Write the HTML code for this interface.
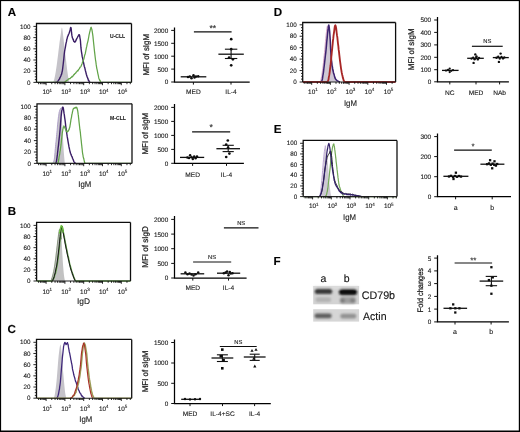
<!DOCTYPE html><html><head><meta charset="utf-8"><style>html,body{margin:0;padding:0;background:#fff;}svg{display:block;} text{font-family:"Liberation Sans", sans-serif;text-rendering:geometricPrecision;}</style></head><body>
<svg width="520" height="432" viewBox="0 0 520 432">
<defs><filter id="soft" x="0" y="0" width="520" height="432" filterUnits="userSpaceOnUse"><feGaussianBlur stdDeviation="0.28"/></filter></defs>
<g filter="url(#soft)">
<rect x="0" y="0" width="520" height="432" fill="#fff"/>
<text x="7.7" y="16.4" font-size="11.6" text-anchor="start" font-weight="bold" fill="#000" stroke="#000" stroke-width="0.12">A</text>
<text x="7.7" y="215.1" font-size="11.6" text-anchor="start" font-weight="bold" fill="#000" stroke="#000" stroke-width="0.12">B</text>
<text x="7.6" y="333.3" font-size="11.6" text-anchor="start" font-weight="bold" fill="#000" stroke="#000" stroke-width="0.12">C</text>
<text x="273.7" y="16.3" font-size="11.6" text-anchor="start" font-weight="bold" fill="#000" stroke="#000" stroke-width="0.12">D</text>
<text x="273.7" y="133.1" font-size="11.6" text-anchor="start" font-weight="bold" fill="#000" stroke="#000" stroke-width="0.12">E</text>
<text x="273.4" y="264.7" font-size="11.6" text-anchor="start" font-weight="bold" fill="#000" stroke="#000" stroke-width="0.12">F</text>
<path d="M52.3 82.4 L52.48 82.25 L52.73 82.11 L53.02 81.91 L53.35 81.57 L53.68 81.01 L54 80.16 L54.31 79 L54.64 77.59 L54.97 75.96 L55.31 74.15 L55.66 72.17 L56 70.08 L56.35 67.75 L56.71 65.14 L57.08 62.38 L57.44 59.59 L57.78 56.88 L58.1 54.4 L58.39 52.09 L58.66 49.84 L58.92 47.68 L59.16 45.65 L59.39 43.77 L59.6 42.08 L59.79 40.65 L59.96 39.47 L60.11 38.44 L60.26 37.48 L60.42 36.48 L60.6 35.36 L60.8 33.93 L61.01 32.23 L61.23 30.5 L61.46 28.97 L61.68 27.9 L61.9 27.52 L62.12 27.94 L62.33 28.99 L62.55 30.5 L62.77 32.27 L62.98 34.14 L63.2 35.92 L63.41 37.68 L63.63 39.57 L63.84 41.55 L64.05 43.59 L64.27 45.65 L64.5 47.68 L64.74 49.7 L64.99 51.75 L65.24 53.81 L65.49 55.87 L65.75 57.94 L66 60 L66.25 62.08 L66.5 64.19 L66.75 66.3 L67 68.38 L67.25 70.4 L67.5 72.32 L67.77 74.25 L68.06 76.22 L68.34 78.13 L68.61 79.87 L68.84 81.33 L69 82.4 Z" fill="#c5c3c9" stroke="none" opacity="1"/>
<path d="M55.5 82.4 L55.69 82.38 L55.93 82.38 L56.23 82.37 L56.57 82.3 L56.93 82.13 L57.3 81.84 L57.7 81.42 L58.14 80.91 L58.61 80.14 L59.09 79.29 L59.56 78.94 L60 77.54 L60.42 77.07 L60.83 76.06 L61.23 74.83 L61.63 74.07 L62.02 72.16 L62.4 70.58 L62.78 67.68 L63.15 64.53 L63.51 61.33 L63.87 58.14 L64.24 54.15 L64.6 51.35 L64.98 49.25 L65.36 47.27 L65.75 44.88 L66.13 42.86 L66.48 41.72 L66.8 39.43 L67.08 38.98 L67.33 37.58 L67.55 36.75 L67.76 36.16 L67.98 35.79 L68.2 35.64 L68.43 34.46 L68.67 34.27 L68.91 33.81 L69.14 33.05 L69.37 32.65 L69.6 31.61 L69.83 30.78 L70.05 29.87 L70.27 29.22 L70.49 28.08 L70.7 27.4 L70.9 27.6 L71.08 28.11 L71.24 29.16 L71.39 31.14 L71.55 32.72 L71.71 33.87 L71.9 35.43 L72.11 36.35 L72.33 37.52 L72.57 38.16 L72.81 38.45 L73.06 39.69 L73.3 39.5 L73.54 40.34 L73.77 41.21 L74 41.17 L74.24 41.86 L74.51 41.67 L74.8 42.23 L75.13 42.01 L75.49 41.27 L75.86 40.81 L76.25 39.49 L76.63 39.03 L77 38.24 L77.37 37.54 L77.74 36.65 L78.11 36.23 L78.47 35.68 L78.8 34.84 L79.1 34.95 L79.35 34.68 L79.57 35.79 L79.76 36.51 L79.94 37.79 L80.12 38.8 L80.3 39.65 L80.47 41.28 L80.61 43.31 L80.74 44.7 L80.9 47.19 L81.11 49.1 L81.4 51.26 L81.78 53.51 L82.23 56.63 L82.74 58.62 L83.27 61.27 L83.8 63.83 L84.3 66.49 L84.8 67.86 L85.31 70.2 L85.83 72.19 L86.33 74.24 L86.79 75.75 L87.2 77.13 L87.55 77.67 L87.84 78.61 L88.1 79.19 L88.34 80.17 L88.57 80.69 L88.8 80.41 L89.05 81.15 L89.3 81.51 L89.55 81.81 L89.77 82.05 L89.96 82.24 L90.1 82.4" fill="none" stroke="#3a1e66" stroke-width="1.4" stroke-linejoin="round" opacity="1"/>
<path d="M36.8 82.4 L37.09 82.4 L37.5 82.4 L37.99 82.4 L38.51 82.4 L39.03 82.4 L39.51 82.4 L39.96 82.4 L40.41 82.4 L40.86 82.4 L41.32 82.4 L41.77 82.4 L42.22 82.4 L42.67 82.4 L43.12 82.4 L43.58 82.4 L44.03 82.4 L44.48 82.4 L44.93 82.4 L45.38 82.4 L45.83 82.4 L46.28 82.4 L46.74 82.4 L47.19 82.4 L47.64 82.4 L48.09 82.4 L48.54 82.4 L48.99 82.4 L49.45 82.4 L49.9 82.4 L50.35 82.4 L50.8 82.4 L51.25 82.4 L51.71 82.4 L52.16 82.4 L52.61 82.4 L53.06 82.4 L53.51 82.4 L53.96 82.4 L54.41 82.4 L54.87 82.4 L55.32 82.4 L55.77 82.4 L56.22 82.4 L56.67 82.4 L57.13 82.4 L57.58 82.4 L58.03 82.4 L58.48 82.4 L58.93 82.4 L59.38 82.4 L59.84 82.4 L60.29 82.4 L60.74 82.4 L61.19 82.4 L61.65 82.4 L62.13 82.4 L62.6 82.4 L63.06 82.4 L63.5 82.4 L63.9 82.4 L64.25 82.28 L64.57 82.11 L64.86 81.91 L65.13 81.69 L65.41 81.48 L65.7 81.28 L66 81.1 L66.29 80.93 L66.58 80.46 L66.87 80.33 L67.18 80.14 L67.5 80.15 L67.84 79.99 L68.2 79.43 L68.57 78.91 L68.95 78.99 L69.33 78.65 L69.7 78.54 L70.07 78.61 L70.45 78.09 L70.83 77.65 L71.2 77.47 L71.56 77.24 L71.9 76.4 L72.22 76.88 L72.53 76.49 L72.83 76.3 L73.11 75.95 L73.4 75.3 L73.7 75.03 L74 74.49 L74.3 74.7 L74.6 73.92 L74.9 73.65 L75.2 73.49 L75.5 73.14 L75.81 72.96 L76.11 72.33 L76.42 71.91 L76.73 71.65 L77.04 71.22 L77.35 71.08 L77.65 70.43 L77.93 70.89 L78.22 70.36 L78.51 69.6 L78.84 69.27 L79.2 68.82 L79.62 68.18 L80.08 67.21 L80.57 67.03 L81.07 66.27 L81.55 64.86 L82 63.91 L82.41 62.6 L82.78 61.67 L83.14 60.91 L83.51 59.75 L83.89 58.99 L84.3 56.9 L84.76 54.95 L85.25 53.69 L85.76 51.03 L86.26 48.36 L86.75 46.45 L87.2 43.89 L87.61 42.39 L88 40.87 L88.38 38.91 L88.73 36.99 L89.07 34.95 L89.4 33.56 L89.71 31.95 L90.01 31.08 L90.29 29.58 L90.57 28.75 L90.83 27.63 L91.1 27.27 L91.36 27.98 L91.6 28.66 L91.84 29.41 L92.08 30.57 L92.33 32.12 L92.6 33.9 L92.89 35.78 L93.2 38.92 L93.52 41.99 L93.84 45.02 L94.17 48.25 L94.5 51.4 L94.83 54.06 L95.16 57.04 L95.5 59.78 L95.84 61.72 L96.17 64.42 L96.5 66.6 L96.83 68.58 L97.16 69.96 L97.49 71.61 L97.81 73.26 L98.11 74.7 L98.4 75.97 L98.66 77.38 L98.9 78.43 L99.13 79 L99.35 79.19 L99.57 79.81 L99.8 80.43 L100.02 80.28 L100.22 81.11 L100.42 81.53 L100.63 81.88 L100.89 82.18 L101.2 82.4 L101.58 82.4 L102.02 82.4 L102.49 82.4 L102.99 82.4 L103.48 82.4 L103.95 82.4 L104.41 82.4 L104.87 82.4 L105.33 82.4 L105.79 82.4 L106.25 82.4 L106.71 82.4 L107.17 82.4 L107.63 82.4 L108.09 82.4 L108.55 82.4 L109 82.4 L109.46 82.4 L109.92 82.4 L110.38 82.4 L110.84 82.4 L111.3 82.4 L111.76 82.4 L112.22 82.4 L112.68 82.4 L113.14 82.4 L113.6 82.4 L114.05 82.4 L114.51 82.4 L114.97 82.4 L115.43 82.4 L115.89 82.4 L116.35 82.4 L116.81 82.4 L117.27 82.4 L117.73 82.4 L118.19 82.4 L118.65 82.4 L119.1 82.4 L119.56 82.4 L120.02 82.4 L120.48 82.4 L120.94 82.4 L121.4 82.4 L121.86 82.4 L122.32 82.4 L122.78 82.4 L123.24 82.4 L123.7 82.4 L124.15 82.4 L124.61 82.4 L125.07 82.4 L125.53 82.4 L125.99 82.4 L126.45 82.4 L126.91 82.4 L127.37 82.4 L127.83 82.4 L128.29 82.4 L128.75 82.4 L129.24 82.4 L129.77 82.4 L130.29 82.4 L130.79 82.4 L131.2 82.4 L131.5 82.4" fill="none" stroke="#62a448" stroke-width="1.25" stroke-linejoin="round" opacity="1"/>
<path d="M36.5 82.4 L36.5 23.5 L131.5 23.5" fill="none" stroke="#111" stroke-width="1.3"/>
<path d="M131.5 23.5 L131.5 82.4" fill="none" stroke="#111" stroke-width="1.3"/>
<path d="M36.5 82.4 L131.5 82.4" fill="none" stroke="#222" stroke-width="1.1"/>
<text x="30.5" y="84.5" font-size="6.3" text-anchor="end" font-weight="normal" fill="#222" stroke="#222" stroke-width="0.12">0</text>
<text x="30.5" y="73.3" font-size="6.3" text-anchor="end" font-weight="normal" fill="#222" stroke="#222" stroke-width="0.12">20</text>
<text x="30.5" y="62.1" font-size="6.3" text-anchor="end" font-weight="normal" fill="#222" stroke="#222" stroke-width="0.12">40</text>
<text x="30.5" y="50.9" font-size="6.3" text-anchor="end" font-weight="normal" fill="#222" stroke="#222" stroke-width="0.12">60</text>
<text x="30.5" y="39.7" font-size="6.3" text-anchor="end" font-weight="normal" fill="#222" stroke="#222" stroke-width="0.12">80</text>
<text x="30.5" y="28.5" font-size="6.3" text-anchor="end" font-weight="normal" fill="#222" stroke="#222" stroke-width="0.12">100</text>
<path d="M33.4 82.4 L36.5 82.4 M33.4 71.2 L36.5 71.2 M33.4 60 L36.5 60 M33.4 48.8 L36.5 48.8 M33.4 37.6 L36.5 37.6 M33.4 26.4 L36.5 26.4 M34.8 79.6 L36.5 79.6 M34.8 76.8 L36.5 76.8 M34.8 74 L36.5 74 M34.8 68.4 L36.5 68.4 M34.8 65.6 L36.5 65.6 M34.8 62.8 L36.5 62.8 M34.8 57.2 L36.5 57.2 M34.8 54.4 L36.5 54.4 M34.8 51.6 L36.5 51.6 M34.8 46 L36.5 46 M34.8 43.2 L36.5 43.2 M34.8 40.4 L36.5 40.4 M34.8 34.8 L36.5 34.8 M34.8 32 L36.5 32 M34.8 29.2 L36.5 29.2 M38.62 82.4 L38.62 84.2 M40.44 82.4 L40.44 84.2 M41.93 82.4 L41.93 84.2 M43.19 82.4 L43.19 84.2 M44.28 82.4 L44.28 84.2 M45.24 82.4 L45.24 84.2 M46.1 82.4 L46.1 85.2 M51.76 82.4 L51.76 84.2 M55.07 82.4 L55.07 84.2 M57.42 82.4 L57.42 84.2 M59.24 82.4 L59.24 84.2 M60.73 82.4 L60.73 84.2 M61.99 82.4 L61.99 84.2 M63.08 82.4 L63.08 84.2 M64.04 82.4 L64.04 84.2 M64.9 82.4 L64.9 85.2 M70.56 82.4 L70.56 84.2 M73.87 82.4 L73.87 84.2 M76.22 82.4 L76.22 84.2 M78.04 82.4 L78.04 84.2 M79.53 82.4 L79.53 84.2 M80.79 82.4 L80.79 84.2 M81.88 82.4 L81.88 84.2 M82.84 82.4 L82.84 84.2 M83.7 82.4 L83.7 85.2 M89.36 82.4 L89.36 84.2 M92.67 82.4 L92.67 84.2 M95.02 82.4 L95.02 84.2 M96.84 82.4 L96.84 84.2 M98.33 82.4 L98.33 84.2 M99.59 82.4 L99.59 84.2 M100.68 82.4 L100.68 84.2 M101.64 82.4 L101.64 84.2 M102.5 82.4 L102.5 85.2 M108.16 82.4 L108.16 84.2 M111.47 82.4 L111.47 84.2 M113.82 82.4 L113.82 84.2 M115.64 82.4 L115.64 84.2 M117.13 82.4 L117.13 84.2 M118.39 82.4 L118.39 84.2 M119.48 82.4 L119.48 84.2 M120.44 82.4 L120.44 84.2 M121.3 82.4 L121.3 85.2 M126.96 82.4 L126.96 84.2 M130.27 82.4 L130.27 84.2 " stroke="#111" stroke-width="0.9" fill="none"/>
<text x="42.5" y="94.4" font-size="6.4" fill="#222" stroke="#222" stroke-width="0.12" text-anchor="start">10<tspan dy="-2.7" font-size="4.5">1</tspan></text>
<text x="61.3" y="94.4" font-size="6.4" fill="#222" stroke="#222" stroke-width="0.12" text-anchor="start">10<tspan dy="-2.7" font-size="4.5">2</tspan></text>
<text x="80.1" y="94.4" font-size="6.4" fill="#222" stroke="#222" stroke-width="0.12" text-anchor="start">10<tspan dy="-2.7" font-size="4.5">3</tspan></text>
<text x="98.9" y="94.4" font-size="6.4" fill="#222" stroke="#222" stroke-width="0.12" text-anchor="start">10<tspan dy="-2.7" font-size="4.5">4</tspan></text>
<text x="117.7" y="94.4" font-size="6.4" fill="#222" stroke="#222" stroke-width="0.12" text-anchor="start">10<tspan dy="-2.7" font-size="4.5">5</tspan></text>
<text x="117.6" y="37.6" font-size="5.8" text-anchor="middle" font-weight="bold" fill="#222" textLength="15.2" lengthAdjust="spacingAndGlyphs" stroke="#222" stroke-width="0.1">U-CLL</text>
<path d="M53 163.4 L53.17 162.85 L53.41 162.13 L53.69 161.26 L53.98 160.23 L54.26 159.05 L54.5 157.7 L54.69 156.13 L54.86 154.32 L55.02 152.36 L55.17 150.31 L55.33 148.27 L55.5 146.3 L55.69 144.43 L55.88 142.61 L56.08 140.78 L56.29 138.91 L56.49 136.96 L56.7 134.9 L56.91 132.64 L57.12 130.19 L57.33 127.67 L57.55 125.17 L57.77 122.79 L58 120.65 L58.24 118.69 L58.49 116.83 L58.75 115.09 L59.01 113.51 L59.26 112.13 L59.5 110.96 L59.73 109.94 L59.96 109.04 L60.18 108.32 L60.4 107.88 L60.6 107.78 L60.8 108.11 L60.98 108.91 L61.16 110.14 L61.32 111.71 L61.48 113.56 L61.64 115.61 L61.8 117.8 L61.97 120.22 L62.13 122.95 L62.3 125.89 L62.47 128.93 L62.63 131.96 L62.8 134.9 L62.97 137.82 L63.13 140.81 L63.3 143.81 L63.47 146.72 L63.63 149.48 L63.8 152 L63.98 154.36 L64.17 156.64 L64.36 158.77 L64.54 160.66 L64.69 162.23 L64.8 163.4 Z" fill="#c5c3c9" stroke="none" opacity="1"/>
<path d="M53 163.4 L53.17 162.85 L53.41 162.13 L53.69 161.41 L53.98 160.6 L54.26 159.3 L54.5 157.93 L54.69 156.11 L54.86 154.03 L55.02 152.62 L55.17 150.16 L55.33 148.54 L55.5 146.72 L55.69 144.34 L55.88 142.52 L56.08 141.18 L56.29 139.11 L56.49 136.67 L56.7 134.56 L56.91 132.32 L57.12 130.56 L57.33 127.94 L57.55 124.85 L57.77 123.09 L58 121.08 L58.24 118.83 L58.49 116.69 L58.75 115.14 L59.01 113.18 L59.26 111.69 L59.5 111.38 L59.74 110.19 L60 109.42 L60.24 109.32 L60.47 108.54 L60.66 108.68 L60.8 108.4" fill="none" stroke="#a898c4" stroke-width="0.9" stroke-linejoin="round" opacity="1"/>
<path d="M54.8 163.4 L54.9 163.4 L55.03 163.4 L55.19 163.4 L55.37 163.39 L55.54 163.3 L55.7 163.12 L55.84 162.94 L55.97 162.82 L56.11 162.63 L56.25 162.27 L56.41 161.35 L56.6 160.33 L56.83 158.82 L57.08 156.83 L57.35 154.91 L57.63 152.2 L57.92 149.84 L58.2 147.11 L58.48 145.32 L58.77 142.22 L59.06 139.64 L59.35 137.02 L59.63 134.57 L59.9 131.41 L60.15 129.03 L60.39 125.7 L60.61 122.74 L60.84 119.87 L61.06 116.78 L61.3 114.9 L61.54 112.66 L61.79 110.62 L62.04 109.7 L62.3 107.84 L62.55 107.25 L62.8 107.17 L63.04 107.33 L63.27 107.97 L63.51 109.44 L63.75 111.12 L64.01 113.2 L64.3 114.6 L64.63 117.3 L64.98 119.71 L65.36 122.66 L65.74 126.11 L66.13 128.8 L66.5 131.54 L66.87 134.24 L67.26 136.88 L67.64 138.87 L68.02 141.31 L68.37 143.31 L68.7 145.17 L68.99 146.9 L69.25 148.01 L69.49 149.22 L69.73 150.16 L69.96 151.5 L70.2 152.18 L70.45 153.16 L70.69 153.92 L70.94 153.92 L71.19 154.78 L71.44 155.72 L71.7 156.3 L71.97 156.41 L72.24 157.19 L72.52 158.29 L72.8 158.75 L73.1 159.65 L73.4 160.17 L73.74 161.31 L74.12 161.99 L74.51 162.26 L74.87 162.72 L75.18 163.11 L75.4 163.4" fill="none" stroke="#3a1e66" stroke-width="1.4" stroke-linejoin="round" opacity="1"/>
<path d="M37 163.4 L37.32 163.4 L37.77 163.4 L38.29 163.4 L38.86 163.4 L39.43 163.4 L39.96 163.4 L40.45 163.4 L40.94 163.4 L41.44 163.4 L41.93 163.4 L42.42 163.4 L42.91 163.4 L43.41 163.4 L43.9 163.4 L44.39 163.4 L44.89 163.4 L45.38 163.4 L45.87 163.4 L46.36 163.4 L46.86 163.4 L47.35 163.4 L47.84 163.4 L48.34 163.4 L48.83 163.4 L49.32 163.4 L49.81 163.4 L50.31 163.4 L50.8 163.4 L51.29 163.4 L51.79 163.4 L52.28 163.4 L52.77 163.4 L53.26 163.4 L53.76 163.4 L54.25 163.4 L54.74 163.4 L55.25 163.4 L55.78 163.4 L56.31 163.4 L56.82 163.4 L57.29 163.4 L57.7 163.4 L58.03 162.7 L58.3 162.11 L58.53 160.31 L58.75 159.54 L58.96 158.12 L59.2 156.24 L59.46 155.42 L59.73 153.9 L60.01 151.53 L60.28 150.42 L60.54 148.09 L60.8 146.29 L61.05 144.7 L61.3 142.33 L61.54 139.44 L61.77 137.46 L61.99 135.49 L62.2 133.62 L62.39 132.09 L62.57 131.04 L62.74 130.43 L62.9 128.98 L63.05 128.75 L63.2 128.01 L63.34 127.06 L63.47 126.9 L63.59 126.82 L63.71 126.49 L63.85 125.97 L64 126.79 L64.17 126.75 L64.36 127.22 L64.55 126.85 L64.76 127.47 L64.97 127.76 L65.2 128.88 L65.44 128.91 L65.69 129.35 L65.96 130.2 L66.23 131.17 L66.51 131.52 L66.8 131.26 L67.11 131.24 L67.43 131.9 L67.77 131.44 L68.1 131.3 L68.41 130.4 L68.7 129.94 L68.95 129.97 L69.19 129.07 L69.41 128 L69.61 127.95 L69.81 126.8 L70 126.05 L70.18 124.47 L70.34 124.18 L70.49 122.43 L70.64 122.07 L70.81 120.6 L71 119.37 L71.23 118.34 L71.48 117.36 L71.75 115.42 L72.02 113.98 L72.27 113.14 L72.5 111.86 L72.69 110.91 L72.85 110.25 L73 109.56 L73.15 109.19 L73.31 108.87 L73.5 108.5 L73.72 108.65 L73.96 108.09 L74.22 108.22 L74.48 107.9 L74.74 108.03 L75 107.68 L75.26 107.76 L75.52 107.38 L75.78 107.86 L76.04 107.56 L76.28 107.19 L76.5 107.52 L76.7 108.09 L76.87 107.57 L77.03 108.5 L77.19 108.56 L77.34 109.14 L77.5 110.12 L77.67 110.57 L77.83 111.66 L78 112.95 L78.17 114.43 L78.33 115.16 L78.5 116.96 L78.67 118.31 L78.83 119.84 L78.99 121.31 L79.16 122.96 L79.33 124.37 L79.5 126.02 L79.68 127.44 L79.86 129.46 L80.05 130.41 L80.24 131.7 L80.42 133.05 L80.6 135.21 L80.77 136.78 L80.93 138.2 L81.09 139.48 L81.26 141.09 L81.42 142.78 L81.6 144.55 L81.79 145.94 L81.99 147.92 L82.19 149.47 L82.39 151.76 L82.6 153.32 L82.8 154.32 L83 155.26 L83.2 156.98 L83.4 157.35 L83.6 158.27 L83.8 158.76 L84 159.87 L84.18 160.7 L84.34 161.42 L84.49 162.05 L84.67 162.6 L84.9 163.05 L85.2 163.4 L85.59 163.4 L86.05 163.4 L86.55 163.4 L87.09 163.4 L87.62 163.4 L88.12 163.4 L88.61 163.4 L89.1 163.4 L89.59 163.4 L90.08 163.4 L90.56 163.4 L91.05 163.4 L91.54 163.4 L92.02 163.4 L92.51 163.4 L93 163.4 L93.49 163.4 L93.97 163.4 L94.46 163.4 L94.95 163.4 L95.44 163.4 L95.92 163.4 L96.41 163.4 L96.9 163.4 L97.39 163.4 L97.88 163.4 L98.36 163.4 L98.85 163.4 L99.34 163.4 L99.83 163.4 L100.31 163.4 L100.8 163.4 L101.29 163.4 L101.78 163.4 L102.26 163.4 L102.75 163.4 L103.24 163.4 L103.72 163.4 L104.21 163.4 L104.7 163.4 L105.19 163.4 L105.67 163.4 L106.16 163.4 L106.65 163.4 L107.14 163.4 L107.62 163.4 L108.11 163.4 L108.6 163.4 L109.09 163.4 L109.57 163.4 L110.06 163.4 L110.55 163.4 L111.04 163.4 L111.53 163.4 L112.01 163.4 L112.5 163.4 L112.99 163.4 L113.48 163.4 L113.96 163.4 L114.45 163.4 L114.94 163.4 L115.42 163.4 L115.91 163.4 L116.4 163.4 L116.89 163.4 L117.38 163.4 L117.86 163.4 L118.35 163.4 L118.84 163.4 L119.33 163.4 L119.81 163.4 L120.3 163.4 L120.79 163.4 L121.27 163.4 L121.76 163.4 L122.25 163.4 L122.74 163.4 L123.22 163.4 L123.71 163.4 L124.2 163.4 L124.69 163.4 L125.17 163.4 L125.66 163.4 L126.15 163.4 L126.64 163.4 L127.12 163.4 L127.61 163.4 L128.1 163.4 L128.59 163.4 L129.07 163.4 L129.6 163.4 L130.16 163.4 L130.72 163.4 L131.24 163.4 L131.68 163.4 L132 163.4" fill="none" stroke="#62a448" stroke-width="1.25" stroke-linejoin="round" opacity="1"/>
<path d="M37 163.4 L37 103.8 L132 103.8" fill="none" stroke="#111" stroke-width="1.3"/>
<path d="M132 103.8 L132 163.4" fill="none" stroke="#111" stroke-width="1.3"/>
<path d="M37 163.4 L132 163.4" fill="none" stroke="#222" stroke-width="1.1"/>
<text x="31" y="165.5" font-size="6.3" text-anchor="end" font-weight="normal" fill="#222" stroke="#222" stroke-width="0.12">0</text>
<text x="31" y="154.1" font-size="6.3" text-anchor="end" font-weight="normal" fill="#222" stroke="#222" stroke-width="0.12">20</text>
<text x="31" y="142.7" font-size="6.3" text-anchor="end" font-weight="normal" fill="#222" stroke="#222" stroke-width="0.12">40</text>
<text x="31" y="131.3" font-size="6.3" text-anchor="end" font-weight="normal" fill="#222" stroke="#222" stroke-width="0.12">60</text>
<text x="31" y="119.9" font-size="6.3" text-anchor="end" font-weight="normal" fill="#222" stroke="#222" stroke-width="0.12">80</text>
<text x="31" y="108.5" font-size="6.3" text-anchor="end" font-weight="normal" fill="#222" stroke="#222" stroke-width="0.12">100</text>
<path d="M33.9 163.4 L37 163.4 M33.9 152 L37 152 M33.9 140.6 L37 140.6 M33.9 129.2 L37 129.2 M33.9 117.8 L37 117.8 M33.9 106.4 L37 106.4 M35.3 160.55 L37 160.55 M35.3 157.7 L37 157.7 M35.3 154.85 L37 154.85 M35.3 149.15 L37 149.15 M35.3 146.3 L37 146.3 M35.3 143.45 L37 143.45 M35.3 137.75 L37 137.75 M35.3 134.9 L37 134.9 M35.3 132.05 L37 132.05 M35.3 126.35 L37 126.35 M35.3 123.5 L37 123.5 M35.3 120.65 L37 120.65 M35.3 114.95 L37 114.95 M35.3 112.1 L37 112.1 M35.3 109.25 L37 109.25 M38.62 163.4 L38.62 165.2 M40.44 163.4 L40.44 165.2 M41.93 163.4 L41.93 165.2 M43.19 163.4 L43.19 165.2 M44.28 163.4 L44.28 165.2 M45.24 163.4 L45.24 165.2 M46.1 163.4 L46.1 166.2 M51.76 163.4 L51.76 165.2 M55.07 163.4 L55.07 165.2 M57.42 163.4 L57.42 165.2 M59.24 163.4 L59.24 165.2 M60.73 163.4 L60.73 165.2 M61.99 163.4 L61.99 165.2 M63.08 163.4 L63.08 165.2 M64.04 163.4 L64.04 165.2 M64.9 163.4 L64.9 166.2 M70.56 163.4 L70.56 165.2 M73.87 163.4 L73.87 165.2 M76.22 163.4 L76.22 165.2 M78.04 163.4 L78.04 165.2 M79.53 163.4 L79.53 165.2 M80.79 163.4 L80.79 165.2 M81.88 163.4 L81.88 165.2 M82.84 163.4 L82.84 165.2 M83.7 163.4 L83.7 166.2 M89.36 163.4 L89.36 165.2 M92.67 163.4 L92.67 165.2 M95.02 163.4 L95.02 165.2 M96.84 163.4 L96.84 165.2 M98.33 163.4 L98.33 165.2 M99.59 163.4 L99.59 165.2 M100.68 163.4 L100.68 165.2 M101.64 163.4 L101.64 165.2 M102.5 163.4 L102.5 166.2 M108.16 163.4 L108.16 165.2 M111.47 163.4 L111.47 165.2 M113.82 163.4 L113.82 165.2 M115.64 163.4 L115.64 165.2 M117.13 163.4 L117.13 165.2 M118.39 163.4 L118.39 165.2 M119.48 163.4 L119.48 165.2 M120.44 163.4 L120.44 165.2 M121.3 163.4 L121.3 166.2 M126.96 163.4 L126.96 165.2 M130.27 163.4 L130.27 165.2 " stroke="#111" stroke-width="0.9" fill="none"/>
<text x="42.5" y="175.8" font-size="6.4" fill="#222" stroke="#222" stroke-width="0.12" text-anchor="start">10<tspan dy="-2.7" font-size="4.5">1</tspan></text>
<text x="61.3" y="175.8" font-size="6.4" fill="#222" stroke="#222" stroke-width="0.12" text-anchor="start">10<tspan dy="-2.7" font-size="4.5">2</tspan></text>
<text x="80.1" y="175.8" font-size="6.4" fill="#222" stroke="#222" stroke-width="0.12" text-anchor="start">10<tspan dy="-2.7" font-size="4.5">3</tspan></text>
<text x="98.9" y="175.8" font-size="6.4" fill="#222" stroke="#222" stroke-width="0.12" text-anchor="start">10<tspan dy="-2.7" font-size="4.5">4</tspan></text>
<text x="117.7" y="175.8" font-size="6.4" fill="#222" stroke="#222" stroke-width="0.12" text-anchor="start">10<tspan dy="-2.7" font-size="4.5">5</tspan></text>
<text x="84.8" y="186.5" font-size="8.3" text-anchor="middle" font-weight="normal" fill="#222" textLength="13" lengthAdjust="spacingAndGlyphs" stroke="#222" stroke-width="0.12">IgM</text>
<text x="118" y="119.7" font-size="5.8" text-anchor="middle" font-weight="bold" fill="#222" textLength="15.8" lengthAdjust="spacingAndGlyphs" stroke="#222" stroke-width="0.1">M-CLL</text>
<path d="M51 281 L51.16 280.54 L51.39 279.91 L51.66 279.16 L51.95 278.32 L52.24 277.44 L52.5 276.55 L52.73 275.71 L52.96 274.88 L53.18 274.02 L53.4 273.03 L53.64 271.86 L53.9 270.44 L54.19 268.71 L54.5 266.73 L54.83 264.56 L55.16 262.28 L55.49 259.95 L55.8 257.65 L56.1 255.28 L56.4 252.77 L56.69 250.21 L56.98 247.7 L57.25 245.33 L57.5 243.19 L57.73 241.27 L57.95 239.49 L58.15 237.84 L58.34 236.33 L58.52 234.97 L58.7 233.74 L58.87 232.63 L59.02 231.62 L59.16 230.75 L59.3 230.05 L59.45 229.56 L59.6 229.29 L59.76 229.29 L59.93 229.52 L60.1 229.95 L60.27 230.55 L60.44 231.27 L60.6 232.07 L60.76 232.94 L60.91 233.9 L61.06 234.99 L61.21 236.23 L61.36 237.66 L61.5 239.3 L61.64 241.26 L61.78 243.54 L61.91 246.01 L62.04 248.53 L62.17 250.97 L62.3 253.2 L62.42 255.21 L62.53 257.11 L62.64 258.93 L62.75 260.72 L62.87 262.5 L63 264.32 L63.15 266.24 L63.31 268.23 L63.48 270.23 L63.66 272.15 L63.83 273.91 L64 275.44 L64.18 276.75 L64.37 277.91 L64.56 278.92 L64.74 279.76 L64.89 280.46 L65 281 Z" fill="#c2c2c2" stroke="none" opacity="1"/>
<path d="M51 281 L51.16 280.54 L51.39 279.91 L51.66 278.89 L51.95 278.33 L52.24 277 L52.5 276.34 L52.73 275.34 L52.96 274.79 L53.18 273.6 L53.4 272.6 L53.64 271.68 L53.9 270.2 L54.19 268.79 L54.5 266.76 L54.83 264.79 L55.16 262.42 L55.49 260.15 L55.8 257.99 L56.1 255.18 L56.4 252.61 L56.69 250.65 L56.98 247.39 L57.25 245.53 L57.5 243.32 L57.73 240.86 L57.95 239.79 L58.15 238.19 L58.34 236.45 L58.52 235.18 L58.7 234.02 L58.87 232.3 L59.02 231.64 L59.16 230.76 L59.3 230.36 L59.45 229.83 L59.6 229.59 L59.76 229.36 L59.93 229.87 L60.1 230.12 L60.27 230.72 L60.44 231.02 L60.6 231.65 L60.77 232.77 L60.94 234.29 L61.11 235.5 L61.27 237.56 L61.4 238.51 L61.5 239.41" fill="none" stroke="#8e9a86" stroke-width="1.1" stroke-linejoin="round" opacity="1"/>
<path d="M36.6 281 L36.88 281 L37.27 281 L37.74 281 L38.24 281 L38.74 281 L39.2 281 L39.63 281 L40.07 281 L40.5 281 L40.93 281 L41.37 281 L41.8 281 L42.23 281 L42.67 281 L43.1 281 L43.53 281 L43.97 281 L44.4 281 L44.83 281 L45.27 281 L45.7 281 L46.13 281 L46.57 281 L47 281 L47.43 281 L47.87 281 L48.3 281 L48.73 281 L49.17 281 L49.6 281 L50.03 281 L50.46 281 L50.89 281 L51.32 281 L51.76 281 L52.2 281 L52.66 280.38 L53.13 279.56 L53.6 278.68 L54.07 277.6 L54.52 276.19 L54.95 274.44 L55.35 273.75 L55.74 272.2 L56.11 270.37 L56.47 268.68 L56.81 266.96 L57.15 264.49 L57.48 263 L57.79 260.33 L58.09 257.82 L58.39 255.58 L58.67 253.58 L58.95 250.71 L59.22 248.76 L59.48 246.46 L59.73 243.5 L59.97 240.92 L60.21 238.66 L60.45 236.69 L60.69 234.67 L60.93 232.42 L61.16 230.46 L61.39 228.23 L61.62 226.97 L61.85 226.29 L62.07 226.57 L62.27 226.54 L62.47 227.55 L62.68 228.09 L62.9 229.33 L63.15 230.75 L63.42 232.42 L63.71 233.91 L64.01 235.53 L64.33 236.95 L64.67 239.03 L65.05 240.94 L65.46 243.04 L65.91 245.01 L66.39 248.1 L66.88 249.9 L67.37 253 L67.85 255.26 L68.33 256.67 L68.81 259.32 L69.29 261.86 L69.78 264.14 L70.27 265.72 L70.75 267.45 L71.24 269.15 L71.74 271.48 L72.25 272.36 L72.74 274.13 L73.21 275.05 L73.65 276.57 L74.04 278.01 L74.4 278.2 L74.73 279.62 L75.06 280.01 L75.41 280.57 L75.8 281 L76.24 281 L76.71 281 L77.19 281 L77.69 281 L78.19 281 L78.68 281 L79.16 281 L79.64 281 L80.12 281 L80.6 281 L81.08 281 L81.56 281 L82.04 281 L82.52 281 L83 281 L83.48 281 L83.96 281 L84.44 281 L84.92 281 L85.4 281 L85.88 281 L86.36 281 L86.84 281 L87.32 281 L87.8 281 L88.28 281 L88.76 281 L89.24 281 L89.71 281 L90.19 281 L90.67 281 L91.15 281 L91.63 281 L92.11 281 L92.59 281 L93.07 281 L93.55 281 L94.03 281 L94.51 281 L94.99 281 L95.47 281 L95.95 281 L96.43 281 L96.91 281 L97.39 281 L97.87 281 L98.35 281 L98.83 281 L99.31 281 L99.79 281 L100.27 281 L100.75 281 L101.23 281 L101.71 281 L102.19 281 L102.67 281 L103.15 281 L103.63 281 L104.11 281 L104.59 281 L105.07 281 L105.55 281 L106.03 281 L106.51 281 L106.99 281 L107.47 281 L107.95 281 L108.43 281 L108.91 281 L109.39 281 L109.87 281 L110.35 281 L110.83 281 L111.31 281 L111.79 281 L112.27 281 L112.75 281 L113.23 281 L113.71 281 L114.19 281 L114.67 281 L115.15 281 L115.63 281 L116.11 281 L116.59 281 L117.06 281 L117.54 281 L118.02 281 L118.5 281 L118.98 281 L119.46 281 L119.94 281 L120.42 281 L120.9 281 L121.38 281 L121.86 281 L122.34 281 L122.82 281 L123.3 281 L123.78 281 L124.26 281 L124.74 281 L125.22 281 L125.7 281 L126.18 281 L126.66 281 L127.14 281 L127.62 281 L128.13 281 L128.69 281 L129.24 281 L129.75 281 L130.19 281 L130.5 281" fill="none" stroke="#62a448" stroke-width="1.4" stroke-linejoin="round" opacity="1"/>
<path d="M52.5 281 L52.73 280.38 L53.04 279.56 L53.41 278.58 L53.81 277.79 L54.22 276.38 L54.6 274.64 L54.97 273.84 L55.34 271.97 L55.72 269.94 L56.09 268.2 L56.46 266.81 L56.8 264.83 L57.13 262.61 L57.44 260.23 L57.74 258.06 L58.04 255.63 L58.32 253.68 L58.6 250.53 L58.87 248.77 L59.13 246.34 L59.38 243.16 L59.62 241.41 L59.86 238.87 L60.1 236.88 L60.34 234.24 L60.58 232.2 L60.81 230.24 L61.04 229.06 L61.27 227.37 L61.5 226.39 L61.72 226.29 L61.92 226.52 L62.12 227.08 L62.33 228.17 L62.55 230.03 L62.8 230.77 L63.07 232.65 L63.36 233.51 L63.66 235.16 L63.98 237.15 L64.32 238.73 L64.7 240.85 L65.11 243.48 L65.56 245.7 L66.04 248.03 L66.53 250.29 L67.02 252.94 L67.5 255.26 L67.98 257.15 L68.46 259.55 L68.94 261.17 L69.43 263.93 L69.92 265.72 L70.4 267.88 L70.89 269.55 L71.4 270.88 L71.9 272.22 L72.39 274.44 L72.86 275.04 L73.3 276.53 L73.72 277.46 L74.14 278.35 L74.53 279.55 L74.89 280.01 L75.18 280.57 L75.4 281" fill="none" stroke="#1d1d1d" stroke-width="1.05" stroke-linejoin="round" opacity="1"/>
<path d="M59.5 233.61 L59.61 232.39 L59.76 231.93 L59.94 230.66 L60.14 229.9 L60.33 228.83 L60.5 227.88 L60.65 227.26 L60.8 226.71 L60.95 226.83 L61.1 226.05 L61.25 225.52 L61.4 226.04 L61.56 226.24 L61.73 226.04 L61.91 226.21 L62.08 226.78 L62.24 227.26 L62.4 228.04 L62.55 228.43 L62.71 229.28 L62.86 230.06 L63 231.07 L63.12 231.98 L63.2 232.3" fill="none" stroke="#6cc040" stroke-width="1.3" stroke-linejoin="round" opacity="1"/>
<path d="M36.6 281 L36.6 222.4 L130.5 222.4" fill="none" stroke="#111" stroke-width="1.3"/>
<path d="M130.5 222.4 L130.5 281" fill="none" stroke="#111" stroke-width="1.3"/>
<path d="M36.6 281 L130.5 281" fill="none" stroke="#222" stroke-width="1.1"/>
<text x="30.6" y="283.1" font-size="6.3" text-anchor="end" font-weight="normal" fill="#222" stroke="#222" stroke-width="0.12">0</text>
<text x="30.6" y="271.98" font-size="6.3" text-anchor="end" font-weight="normal" fill="#222" stroke="#222" stroke-width="0.12">20</text>
<text x="30.6" y="260.86" font-size="6.3" text-anchor="end" font-weight="normal" fill="#222" stroke="#222" stroke-width="0.12">40</text>
<text x="30.6" y="249.74" font-size="6.3" text-anchor="end" font-weight="normal" fill="#222" stroke="#222" stroke-width="0.12">60</text>
<text x="30.6" y="238.62" font-size="6.3" text-anchor="end" font-weight="normal" fill="#222" stroke="#222" stroke-width="0.12">80</text>
<text x="30.6" y="227.5" font-size="6.3" text-anchor="end" font-weight="normal" fill="#222" stroke="#222" stroke-width="0.12">100</text>
<path d="M33.5 281 L36.6 281 M33.5 269.88 L36.6 269.88 M33.5 258.76 L36.6 258.76 M33.5 247.64 L36.6 247.64 M33.5 236.52 L36.6 236.52 M33.5 225.4 L36.6 225.4 M34.9 278.22 L36.6 278.22 M34.9 275.44 L36.6 275.44 M34.9 272.66 L36.6 272.66 M34.9 267.1 L36.6 267.1 M34.9 264.32 L36.6 264.32 M34.9 261.54 L36.6 261.54 M34.9 255.98 L36.6 255.98 M34.9 253.2 L36.6 253.2 M34.9 250.42 L36.6 250.42 M34.9 244.86 L36.6 244.86 M34.9 242.08 L36.6 242.08 M34.9 239.3 L36.6 239.3 M34.9 233.74 L36.6 233.74 M34.9 230.96 L36.6 230.96 M34.9 228.18 L36.6 228.18 M38.62 281 L38.62 282.8 M40.44 281 L40.44 282.8 M41.93 281 L41.93 282.8 M43.19 281 L43.19 282.8 M44.28 281 L44.28 282.8 M45.24 281 L45.24 282.8 M46.1 281 L46.1 283.8 M51.76 281 L51.76 282.8 M55.07 281 L55.07 282.8 M57.42 281 L57.42 282.8 M59.24 281 L59.24 282.8 M60.73 281 L60.73 282.8 M61.99 281 L61.99 282.8 M63.08 281 L63.08 282.8 M64.04 281 L64.04 282.8 M64.9 281 L64.9 283.8 M70.56 281 L70.56 282.8 M73.87 281 L73.87 282.8 M76.22 281 L76.22 282.8 M78.04 281 L78.04 282.8 M79.53 281 L79.53 282.8 M80.79 281 L80.79 282.8 M81.88 281 L81.88 282.8 M82.84 281 L82.84 282.8 M83.7 281 L83.7 283.8 M89.36 281 L89.36 282.8 M92.67 281 L92.67 282.8 M95.02 281 L95.02 282.8 M96.84 281 L96.84 282.8 M98.33 281 L98.33 282.8 M99.59 281 L99.59 282.8 M100.68 281 L100.68 282.8 M101.64 281 L101.64 282.8 M102.5 281 L102.5 283.8 M108.16 281 L108.16 282.8 M111.47 281 L111.47 282.8 M113.82 281 L113.82 282.8 M115.64 281 L115.64 282.8 M117.13 281 L117.13 282.8 M118.39 281 L118.39 282.8 M119.48 281 L119.48 282.8 M120.44 281 L120.44 282.8 M121.3 281 L121.3 283.8 M126.96 281 L126.96 282.8 " stroke="#111" stroke-width="0.9" fill="none"/>
<text x="42.5" y="293.5" font-size="6.4" fill="#222" stroke="#222" stroke-width="0.12" text-anchor="start">10<tspan dy="-2.7" font-size="4.5">1</tspan></text>
<text x="61.3" y="293.5" font-size="6.4" fill="#222" stroke="#222" stroke-width="0.12" text-anchor="start">10<tspan dy="-2.7" font-size="4.5">2</tspan></text>
<text x="80.1" y="293.5" font-size="6.4" fill="#222" stroke="#222" stroke-width="0.12" text-anchor="start">10<tspan dy="-2.7" font-size="4.5">3</tspan></text>
<text x="98.9" y="293.5" font-size="6.4" fill="#222" stroke="#222" stroke-width="0.12" text-anchor="start">10<tspan dy="-2.7" font-size="4.5">4</tspan></text>
<text x="117.7" y="293.5" font-size="6.4" fill="#222" stroke="#222" stroke-width="0.12" text-anchor="start">10<tspan dy="-2.7" font-size="4.5">5</tspan></text>
<text x="83.5" y="303.5" font-size="8.3" text-anchor="middle" font-weight="normal" fill="#222" textLength="13" lengthAdjust="spacingAndGlyphs" stroke="#222" stroke-width="0.12">IgD</text>
<path d="M53 398.2 L53.16 398.1 L53.37 398.08 L53.62 397.99 L53.91 397.7 L54.2 397.07 L54.5 395.96 L54.8 394.38 L55.13 392.42 L55.46 390.13 L55.81 387.52 L56.16 384.61 L56.5 381.43 L56.85 377.7 L57.2 373.33 L57.56 368.68 L57.92 364.06 L58.27 359.81 L58.6 356.27 L58.93 353.32 L59.25 350.64 L59.56 348.34 L59.86 346.5 L60.14 345.2 L60.4 344.54 L60.62 344.64 L60.82 345.49 L60.99 346.88 L61.16 348.61 L61.32 350.51 L61.5 352.36 L61.68 354.27 L61.86 356.42 L62.04 358.72 L62.23 361.1 L62.41 363.48 L62.6 365.78 L62.79 368.03 L62.99 370.29 L63.19 372.56 L63.4 374.8 L63.6 377.02 L63.8 379.19 L64 381.37 L64.2 383.58 L64.4 385.76 L64.6 387.85 L64.8 389.78 L65 391.49 L65.21 393.01 L65.44 394.39 L65.67 395.61 L65.89 396.67 L66.07 397.53 L66.2 398.2 Z" fill="#c5c3c9" stroke="none" opacity="1"/>
<path d="M56.5 398.2 L56.62 398.13 L56.77 398.08 L56.96 397.99 L57.17 397.83 L57.39 397.54 L57.6 397.08 L57.82 396.38 L58.04 395.64 L58.28 394.87 L58.52 393.74 L58.76 392.59 L59 391.1 L59.24 389.93 L59.47 389.06 L59.71 386.68 L59.95 385.28 L60.18 383.53 L60.4 381.76 L60.61 379.02 L60.81 376.73 L61 374.25 L61.19 371.86 L61.39 369.35 L61.6 367.3 L61.83 364.64 L62.06 361.97 L62.31 358.5 L62.55 355.9 L62.78 354.09 L63 352.16 L63.2 349.98 L63.39 348.49 L63.56 346.57 L63.74 345.72 L63.91 345.19 L64.1 344.27 L64.3 343.69 L64.5 343.43 L64.71 342.6 L64.92 342.42 L65.12 342.49 L65.3 342.88 L65.47 343.18 L65.62 343.73 L65.76 343.93 L65.9 344.25 L66.05 344.66 L66.2 344.5 L66.36 344.46 L66.53 343.69 L66.71 343.95 L66.88 343.05 L67.04 343.36 L67.2 342.99 L67.34 342.7 L67.46 342.63 L67.58 342.92 L67.7 343.56 L67.84 344.07 L68 344.19 L68.18 345 L68.36 346.44 L68.56 347.69 L68.78 348.82 L69.03 350.08 L69.3 351.89 L69.62 352.96 L69.99 354.98 L70.39 356.97 L70.79 359.3 L71.16 360.84 L71.5 362.77 L71.78 364 L72.03 365.31 L72.25 366.81 L72.47 368.9 L72.72 370.11 L73 371.19 L73.33 372.39 L73.68 374.26 L74.06 375.86 L74.44 377.03 L74.83 378.24 L75.2 379.9 L75.57 381.36 L75.93 381.91 L76.3 382.86 L76.67 384.22 L77.03 385.36 L77.4 386.63 L77.77 387.21 L78.14 388.76 L78.51 389.68 L78.88 390.4 L79.24 391 L79.6 392.47 L79.95 392.59 L80.29 393.67 L80.62 393.71 L80.96 394.22 L81.28 395.19 L81.6 395.22 L81.92 396.23 L82.23 396.2 L82.54 396.26 L82.84 396.84 L83.13 397.12 L83.4 397.36 L83.67 397.58 L83.95 397.75 L84.21 397.9 L84.45 398.02 L84.65 398.12 L84.8 398.2" fill="none" stroke="#3f287a" stroke-width="1.3" stroke-linejoin="round" opacity="1"/>
<path d="M36.8 398.2 L37.11 398.2 L37.54 398.2 L38.05 398.2 L38.59 398.2 L39.14 398.2 L39.65 398.2 L40.12 398.2 L40.6 398.2 L41.08 398.2 L41.55 398.2 L42.02 398.2 L42.5 398.2 L42.98 398.2 L43.45 398.2 L43.92 398.2 L44.4 398.2 L44.88 398.2 L45.35 398.2 L45.82 398.2 L46.3 398.2 L46.77 398.2 L47.25 398.2 L47.72 398.2 L48.2 398.2 L48.67 398.2 L49.15 398.2 L49.62 398.2 L50.1 398.2 L50.58 398.2 L51.05 398.2 L51.52 398.2 L52 398.2 L52.47 398.2 L52.95 398.2 L53.42 398.2 L53.9 398.2 L54.38 398.2 L54.85 398.2 L55.33 398.2 L55.8 398.2 L56.27 398.2 L56.75 398.2 L57.23 398.2 L57.7 398.2 L58.17 398.2 L58.65 398.2 L59.12 398.2 L59.6 398.2 L60.07 398.2 L60.55 398.2 L61.02 398.2 L61.5 398.2 L61.97 398.2 L62.45 398.2 L62.93 398.2 L63.4 398.2 L63.88 398.2 L64.35 398.2 L64.83 398.2 L65.3 398.2 L65.77 398.2 L66.25 398.2 L66.72 398.2 L67.2 398.2 L67.67 398.2 L68.15 398.2 L68.63 398.2 L69.11 398.2 L69.6 398.2 L70.08 398.2 L70.55 398.2 L71 398.2 L71.44 397.98 L71.86 397.68 L72.28 397.33 L72.69 396.92 L73.09 396.21 L73.5 395.89 L73.9 395.64 L74.29 395.44 L74.67 394.21 L75.07 393.82 L75.47 392.85 L75.9 392.48 L76.36 390.39 L76.85 388.75 L77.36 387.01 L77.86 385.41 L78.35 383.86 L78.8 381.78 L79.23 379.45 L79.64 377.34 L80.04 374.83 L80.41 371.77 L80.77 369.11 L81.1 367.29 L81.39 364.56 L81.65 361.24 L81.88 359.11 L82.11 356.25 L82.34 353.82 L82.6 351.65 L82.88 349.53 L83.17 347.44 L83.47 345.94 L83.77 344.59 L84.08 344.18 L84.4 343.08 L84.73 344.19 L85.07 344.46 L85.42 346.01 L85.76 348.18 L86.09 350.11 L86.4 351.74 L86.67 353.53 L86.92 356.33 L87.16 358.85 L87.39 362.04 L87.63 364.06 L87.9 366.77 L88.19 369.75 L88.5 371.5 L88.82 374.36 L89.14 377.18 L89.47 379.48 L89.8 381.02 L90.14 383.09 L90.49 385.11 L90.84 387.78 L91.19 388.93 L91.51 390.94 L91.8 392.41 L92.04 392.97 L92.25 393.71 L92.43 394.94 L92.61 395.14 L92.79 395.27 L93 396.16 L93.22 396.29 L93.43 396.92 L93.65 397.33 L93.89 397.68 L94.17 397.98 L94.5 398.2 L94.9 398.2 L95.35 398.2 L95.85 398.2 L96.36 398.2 L96.87 398.2 L97.36 398.2 L97.84 398.2 L98.32 398.2 L98.79 398.2 L99.27 398.2 L99.75 398.2 L100.22 398.2 L100.7 398.2 L101.18 398.2 L101.65 398.2 L102.13 398.2 L102.61 398.2 L103.08 398.2 L103.56 398.2 L104.04 398.2 L104.52 398.2 L104.99 398.2 L105.47 398.2 L105.95 398.2 L106.42 398.2 L106.9 398.2 L107.38 398.2 L107.85 398.2 L108.33 398.2 L108.81 398.2 L109.28 398.2 L109.76 398.2 L110.24 398.2 L110.72 398.2 L111.19 398.2 L111.67 398.2 L112.15 398.2 L112.62 398.2 L113.1 398.2 L113.58 398.2 L114.05 398.2 L114.53 398.2 L115.01 398.2 L115.48 398.2 L115.96 398.2 L116.44 398.2 L116.92 398.2 L117.39 398.2 L117.87 398.2 L118.35 398.2 L118.82 398.2 L119.3 398.2 L119.78 398.2 L120.25 398.2 L120.73 398.2 L121.21 398.2 L121.68 398.2 L122.16 398.2 L122.64 398.2 L123.12 398.2 L123.59 398.2 L124.07 398.2 L124.55 398.2 L125.02 398.2 L125.5 398.2 L125.98 398.2 L126.45 398.2 L126.93 398.2 L127.41 398.2 L127.88 398.2 L128.36 398.2 L128.84 398.2 L129.35 398.2 L129.9 398.2 L130.45 398.2 L130.96 398.2 L131.39 398.2 L131.7 398.2" fill="none" stroke="#9c9c58" stroke-width="1.5" stroke-linejoin="round" opacity="1"/>
<path d="M70.5 398.2 L70.75 398.01 L71.1 397.78 L71.51 397.48 L71.96 397.13 L72.4 396.72 L72.8 396.04 L73.16 395.3 L73.51 395.48 L73.86 395.06 L74.22 394.13 L74.59 393.55 L75 391.62 L75.45 390.46 L75.94 389.11 L76.44 387.8 L76.95 385.91 L77.44 383.4 L77.9 381.21 L78.33 379.18 L78.74 376.89 L79.14 374.83 L79.51 371.64 L79.87 369.67 L80.2 367.11 L80.49 364.63 L80.74 361.9 L80.97 359.06 L81.19 356.2 L81.43 353.77 L81.7 351.68 L82.01 350.08 L82.34 347.51 L82.69 345.87 L83.04 344.95 L83.38 343.54 L83.7 343.03 L84 343.35 L84.3 344.77 L84.59 345.99 L84.87 348.32 L85.14 350.17 L85.4 352.24 L85.65 353.73 L85.87 355.98 L86.09 358.6 L86.31 361.66 L86.55 364.52 L86.8 366.85 L87.08 369.16 L87.37 371.85 L87.67 374.55 L87.98 377.05 L88.29 379.46 L88.6 381.74 L88.92 383.65 L89.25 385.15 L89.58 387.68 L89.91 388.93 L90.22 390.74 L90.5 391.94 L90.75 393.4 L90.99 393.83 L91.21 394.62 L91.41 395.24 L91.61 395.7 L91.8 396.87 L92 396.98 L92.19 397.35 L92.38 397.64 L92.55 397.87 L92.69 398.05 L92.8 398.2" fill="none" stroke="#a83028" stroke-width="1.15" stroke-linejoin="round" opacity="1"/>
<path d="M36.5 398.2 L36.5 339.4 L131.7 339.4" fill="none" stroke="#111" stroke-width="1.3"/>
<path d="M131.7 339.4 L131.7 398.2" fill="none" stroke="#111" stroke-width="1.3"/>
<path d="M36.5 398.2 L131.7 398.2" fill="none" stroke="#222" stroke-width="1.1"/>
<text x="30.5" y="400.3" font-size="6.3" text-anchor="end" font-weight="normal" fill="#222" stroke="#222" stroke-width="0.12">0</text>
<text x="30.5" y="389.12" font-size="6.3" text-anchor="end" font-weight="normal" fill="#222" stroke="#222" stroke-width="0.12">20</text>
<text x="30.5" y="377.94" font-size="6.3" text-anchor="end" font-weight="normal" fill="#222" stroke="#222" stroke-width="0.12">40</text>
<text x="30.5" y="366.76" font-size="6.3" text-anchor="end" font-weight="normal" fill="#222" stroke="#222" stroke-width="0.12">60</text>
<text x="30.5" y="355.58" font-size="6.3" text-anchor="end" font-weight="normal" fill="#222" stroke="#222" stroke-width="0.12">80</text>
<text x="30.5" y="344.4" font-size="6.3" text-anchor="end" font-weight="normal" fill="#222" stroke="#222" stroke-width="0.12">100</text>
<path d="M33.4 398.2 L36.5 398.2 M33.4 387.02 L36.5 387.02 M33.4 375.84 L36.5 375.84 M33.4 364.66 L36.5 364.66 M33.4 353.48 L36.5 353.48 M33.4 342.3 L36.5 342.3 M34.8 395.4 L36.5 395.4 M34.8 392.61 L36.5 392.61 M34.8 389.81 L36.5 389.81 M34.8 384.23 L36.5 384.23 M34.8 381.43 L36.5 381.43 M34.8 378.63 L36.5 378.63 M34.8 373.05 L36.5 373.05 M34.8 370.25 L36.5 370.25 M34.8 367.45 L36.5 367.45 M34.8 361.87 L36.5 361.87 M34.8 359.07 L36.5 359.07 M34.8 356.27 L36.5 356.27 M34.8 350.69 L36.5 350.69 M34.8 347.89 L36.5 347.89 M34.8 345.1 L36.5 345.1 M38.62 398.2 L38.62 400 M40.44 398.2 L40.44 400 M41.93 398.2 L41.93 400 M43.19 398.2 L43.19 400 M44.28 398.2 L44.28 400 M45.24 398.2 L45.24 400 M46.1 398.2 L46.1 401 M51.76 398.2 L51.76 400 M55.07 398.2 L55.07 400 M57.42 398.2 L57.42 400 M59.24 398.2 L59.24 400 M60.73 398.2 L60.73 400 M61.99 398.2 L61.99 400 M63.08 398.2 L63.08 400 M64.04 398.2 L64.04 400 M64.9 398.2 L64.9 401 M70.56 398.2 L70.56 400 M73.87 398.2 L73.87 400 M76.22 398.2 L76.22 400 M78.04 398.2 L78.04 400 M79.53 398.2 L79.53 400 M80.79 398.2 L80.79 400 M81.88 398.2 L81.88 400 M82.84 398.2 L82.84 400 M83.7 398.2 L83.7 401 M89.36 398.2 L89.36 400 M92.67 398.2 L92.67 400 M95.02 398.2 L95.02 400 M96.84 398.2 L96.84 400 M98.33 398.2 L98.33 400 M99.59 398.2 L99.59 400 M100.68 398.2 L100.68 400 M101.64 398.2 L101.64 400 M102.5 398.2 L102.5 401 M108.16 398.2 L108.16 400 M111.47 398.2 L111.47 400 M113.82 398.2 L113.82 400 M115.64 398.2 L115.64 400 M117.13 398.2 L117.13 400 M118.39 398.2 L118.39 400 M119.48 398.2 L119.48 400 M120.44 398.2 L120.44 400 M121.3 398.2 L121.3 401 M126.96 398.2 L126.96 400 M130.27 398.2 L130.27 400 " stroke="#111" stroke-width="0.9" fill="none"/>
<text x="42.5" y="411" font-size="6.4" fill="#222" stroke="#222" stroke-width="0.12" text-anchor="start">10<tspan dy="-2.7" font-size="4.5">1</tspan></text>
<text x="61.3" y="411" font-size="6.4" fill="#222" stroke="#222" stroke-width="0.12" text-anchor="start">10<tspan dy="-2.7" font-size="4.5">2</tspan></text>
<text x="80.1" y="411" font-size="6.4" fill="#222" stroke="#222" stroke-width="0.12" text-anchor="start">10<tspan dy="-2.7" font-size="4.5">3</tspan></text>
<text x="98.9" y="411" font-size="6.4" fill="#222" stroke="#222" stroke-width="0.12" text-anchor="start">10<tspan dy="-2.7" font-size="4.5">4</tspan></text>
<text x="117.7" y="411" font-size="6.4" fill="#222" stroke="#222" stroke-width="0.12" text-anchor="start">10<tspan dy="-2.7" font-size="4.5">5</tspan></text>
<text x="85.8" y="422.3" font-size="8.3" text-anchor="middle" font-weight="normal" fill="#222" textLength="13" lengthAdjust="spacingAndGlyphs" stroke="#222" stroke-width="0.12">IgM</text>
<path d="M320 82 L320.16 81.71 L320.39 81.39 L320.66 80.96 L320.94 80.39 L321.23 79.61 L321.5 78.57 L321.75 77.26 L321.99 75.73 L322.23 73.99 L322.48 72.06 L322.73 69.96 L323 67.7 L323.29 65.2 L323.59 62.45 L323.9 59.51 L324.21 56.49 L324.51 53.47 L324.8 50.54 L325.07 47.57 L325.34 44.46 L325.6 41.35 L325.85 38.38 L326.08 35.68 L326.3 33.38 L326.49 31.45 L326.66 29.78 L326.82 28.37 L326.97 27.26 L327.13 26.44 L327.3 25.94 L327.48 25.85 L327.67 26.16 L327.87 26.77 L328.07 27.58 L328.28 28.48 L328.5 29.38 L328.74 30.27 L328.99 31.24 L329.25 32.31 L329.51 33.49 L329.76 34.79 L330 36.24 L330.22 37.87 L330.42 39.67 L330.61 41.6 L330.8 43.61 L331 45.65 L331.2 47.68 L331.41 49.74 L331.62 51.87 L331.83 54.04 L332.05 56.2 L332.27 58.29 L332.5 60.26 L332.74 62.15 L332.99 63.97 L333.24 65.73 L333.49 67.42 L333.75 69.04 L334 70.56 L334.25 72 L334.5 73.38 L334.75 74.67 L335 75.88 L335.25 76.99 L335.5 78 L335.77 78.91 L336.06 79.73 L336.34 80.46 L336.61 81.09 L336.84 81.6 L337 82 Z" fill="#cfc8d4" stroke="none" opacity="1"/>
<path d="M319.5 82 L319.62 81.98 L319.79 82 L319.99 82 L320.21 81.96 L320.45 81.59 L320.7 80.86 L320.96 79.83 L321.25 78.24 L321.55 76.69 L321.86 75.37 L322.18 72.85 L322.5 70.32 L322.82 68.26 L323.16 65.21 L323.5 62.39 L323.84 58.34 L324.18 55.41 L324.5 52.54 L324.82 49.32 L325.14 45.96 L325.46 41.73 L325.77 38.66 L326.05 35.53 L326.3 33.1 L326.52 31.82 L326.73 29.85 L326.91 28.87 L327.07 27.33 L327.2 26.95 L327.3 25.9" fill="none" stroke="#d7a6c8" stroke-width="1.0" stroke-linejoin="round" opacity="1"/>
<path d="M321 82 L321.08 82 L321.17 82 L321.29 82 L321.44 82 L321.61 82 L321.8 81.43 L322.02 80.23 L322.28 79.47 L322.56 78.15 L322.86 75.65 L323.17 74.08 L323.5 71.81 L323.86 68.75 L324.24 65.76 L324.65 62.16 L325.06 58.71 L325.44 55.29 L325.8 52.35 L326.12 49.24 L326.43 45.63 L326.71 42.31 L326.99 39.58 L327.25 37.12 L327.5 34.24 L327.74 32.1 L327.97 29.83 L328.18 28.43 L328.39 26.67 L328.59 25.25 L328.8 25.01 L329.01 25.87 L329.22 27.37 L329.43 29.36 L329.63 31.13 L329.82 33.6 L330 36.42 L330.15 38.58 L330.29 41.17 L330.41 44.04 L330.53 47.47 L330.66 49.62 L330.8 52.32 L330.95 54.35 L331.11 56.5 L331.27 58.88 L331.44 60.84 L331.62 61.98 L331.8 63.42 L331.98 65.32 L332.17 66.1 L332.37 67.04 L332.57 68.89 L332.78 69.47 L333 70.85 L333.23 71.52 L333.48 72.98 L333.73 73.6 L333.99 74.28 L334.25 75.04 L334.5 76.33 L334.74 77.13 L334.98 78.04 L335.22 77.89 L335.46 78.91 L335.72 79.17 L336 79.72 L336.3 79.75 L336.63 80.16 L336.97 80.59 L337.31 80.78 L337.66 80.96 L338 81.14 L338.36 81.33 L338.74 81.5 L339.12 81.66 L339.48 81.8 L339.78 81.91 L340 82" fill="none" stroke="#3c2470" stroke-width="1.5" stroke-linejoin="round" opacity="1"/>
<path d="M302.8 82 L303.09 82 L303.5 82 L303.98 82 L304.49 82 L305.01 82 L305.49 82 L305.94 82 L306.39 82 L306.83 82 L307.28 82 L307.73 82 L308.18 82 L308.63 82 L309.07 82 L309.52 82 L309.97 82 L310.42 82 L310.87 82 L311.31 82 L311.76 82 L312.21 82 L312.66 82 L313.11 82 L313.56 82 L314 82 L314.45 82 L314.9 82 L315.35 82 L315.8 82 L316.24 82 L316.69 82 L317.14 82 L317.59 82 L318.04 82 L318.49 82 L318.93 82 L319.38 82 L319.83 82 L320.28 82 L320.73 82 L321.17 82 L321.62 82 L322.07 82 L322.52 82 L322.97 82 L323.41 82 L323.86 82 L324.31 82 L324.77 82 L325.25 82 L325.73 82 L326.19 82 L326.62 82 L327 82 L327.32 81.79 L327.58 81.6 L327.81 81.32 L328.02 80.88 L328.25 80.2 L328.5 79.52 L328.79 77.35 L329.09 75.91 L329.4 74.16 L329.71 72.1 L330.01 69.13 L330.3 66.79 L330.57 65.23 L330.81 62.85 L331.06 59.93 L331.3 57 L331.54 55.22 L331.8 52.16 L332.07 49.96 L332.35 46.92 L332.63 44.29 L332.92 40.93 L333.21 38.88 L333.5 35.99 L333.8 33.81 L334.1 31.79 L334.4 29.49 L334.7 26.99 L335 25.68 L335.3 25.28 L335.59 25.73 L335.86 26.71 L336.14 28.14 L336.41 30.31 L336.7 33.01 L337 35.45 L337.32 37.13 L337.64 40.36 L337.98 43.51 L338.32 45.93 L338.66 49.68 L339 51.91 L339.34 55.16 L339.67 57.98 L340.01 60.88 L340.35 63.31 L340.68 65.94 L341 68.35 L341.32 70.19 L341.63 72.16 L341.93 73.55 L342.23 74.95 L342.52 75.85 L342.8 77.53 L343.07 78.42 L343.33 79.03 L343.59 80.2 L343.83 80.54 L344.07 81.02 L344.3 81.43 L344.5 81.73 L344.66 81.89 L344.81 81.96 L344.98 81.98 L345.2 81.98 L345.5 82 L345.89 82 L346.35 82 L346.86 82 L347.4 82 L347.94 82 L348.45 82 L348.94 82 L349.43 82 L349.92 82 L350.41 82 L350.9 82 L351.39 82 L351.89 82 L352.38 82 L352.87 82 L353.36 82 L353.85 82 L354.34 82 L354.83 82 L355.32 82 L355.81 82 L356.31 82 L356.8 82 L357.29 82 L357.78 82 L358.27 82 L358.76 82 L359.25 82 L359.74 82 L360.24 82 L360.73 82 L361.22 82 L361.71 82 L362.2 82 L362.69 82 L363.18 82 L363.67 82 L364.16 82 L364.66 82 L365.15 82 L365.64 82 L366.13 82 L366.62 82 L367.11 82 L367.6 82 L368.09 82 L368.59 82 L369.08 82 L369.57 82 L370.06 82 L370.55 82 L371.04 82 L371.53 82 L372.02 82 L372.51 82 L373.01 82 L373.5 82 L373.99 82 L374.48 82 L374.97 82 L375.46 82 L375.95 82 L376.44 82 L376.94 82 L377.43 82 L377.92 82 L378.41 82 L378.9 82 L379.39 82 L379.88 82 L380.37 82 L380.86 82 L381.36 82 L381.85 82 L382.34 82 L382.83 82 L383.32 82 L383.81 82 L384.3 82 L384.79 82 L385.29 82 L385.78 82 L386.27 82 L386.76 82 L387.25 82 L387.74 82 L388.23 82 L388.72 82 L389.21 82 L389.71 82 L390.2 82 L390.69 82 L391.18 82 L391.67 82 L392.16 82 L392.65 82 L393.18 82 L393.74 82 L394.31 82 L394.84 82 L395.28 82 L395.6 82" fill="none" stroke="#a82828" stroke-width="1.85" stroke-linejoin="round" opacity="1"/>
<path d="M302.7 82 L302.7 22.5 L395.6 22.5" fill="none" stroke="#111" stroke-width="1.3"/>
<path d="M395.6 22.5 L395.6 82" fill="none" stroke="#111" stroke-width="1.3"/>
<path d="M302.7 82 L395.6 82" fill="none" stroke="#222" stroke-width="1.1"/>
<text x="296.7" y="84.1" font-size="6.3" text-anchor="end" font-weight="normal" fill="#222" stroke="#222" stroke-width="0.12">0</text>
<text x="296.7" y="72.66" font-size="6.3" text-anchor="end" font-weight="normal" fill="#222" stroke="#222" stroke-width="0.12">20</text>
<text x="296.7" y="61.22" font-size="6.3" text-anchor="end" font-weight="normal" fill="#222" stroke="#222" stroke-width="0.12">40</text>
<text x="296.7" y="49.78" font-size="6.3" text-anchor="end" font-weight="normal" fill="#222" stroke="#222" stroke-width="0.12">60</text>
<text x="296.7" y="38.34" font-size="6.3" text-anchor="end" font-weight="normal" fill="#222" stroke="#222" stroke-width="0.12">80</text>
<text x="296.7" y="26.9" font-size="6.3" text-anchor="end" font-weight="normal" fill="#222" stroke="#222" stroke-width="0.12">100</text>
<path d="M299.6 82 L302.7 82 M299.6 70.56 L302.7 70.56 M299.6 59.12 L302.7 59.12 M299.6 47.68 L302.7 47.68 M299.6 36.24 L302.7 36.24 M299.6 24.8 L302.7 24.8 M301 79.14 L302.7 79.14 M301 76.28 L302.7 76.28 M301 73.42 L302.7 73.42 M301 67.7 L302.7 67.7 M301 64.84 L302.7 64.84 M301 61.98 L302.7 61.98 M301 56.26 L302.7 56.26 M301 53.4 L302.7 53.4 M301 50.54 L302.7 50.54 M301 44.82 L302.7 44.82 M301 41.96 L302.7 41.96 M301 39.1 L302.7 39.1 M301 33.38 L302.7 33.38 M301 30.52 L302.7 30.52 M301 27.66 L302.7 27.66 M304.26 82 L304.26 83.8 M306.07 82 L306.07 83.8 M307.55 82 L307.55 83.8 M308.8 82 L308.8 83.8 M309.89 82 L309.89 83.8 M310.84 82 L310.84 83.8 M311.7 82 L311.7 84.8 M317.33 82 L317.33 83.8 M320.62 82 L320.62 83.8 M322.96 82 L322.96 83.8 M324.77 82 L324.77 83.8 M326.25 82 L326.25 83.8 M327.5 82 L327.5 83.8 M328.59 82 L328.59 83.8 M329.54 82 L329.54 83.8 M330.4 82 L330.4 84.8 M336.03 82 L336.03 83.8 M339.32 82 L339.32 83.8 M341.66 82 L341.66 83.8 M343.47 82 L343.47 83.8 M344.95 82 L344.95 83.8 M346.2 82 L346.2 83.8 M347.29 82 L347.29 83.8 M348.24 82 L348.24 83.8 M349.1 82 L349.1 84.8 M354.73 82 L354.73 83.8 M358.02 82 L358.02 83.8 M360.36 82 L360.36 83.8 M362.17 82 L362.17 83.8 M363.65 82 L363.65 83.8 M364.9 82 L364.9 83.8 M365.99 82 L365.99 83.8 M366.94 82 L366.94 83.8 M367.8 82 L367.8 84.8 M373.43 82 L373.43 83.8 M376.72 82 L376.72 83.8 M379.06 82 L379.06 83.8 M380.87 82 L380.87 83.8 M382.35 82 L382.35 83.8 M383.6 82 L383.6 83.8 M384.69 82 L384.69 83.8 M385.64 82 L385.64 83.8 M386.5 82 L386.5 84.8 M392.13 82 L392.13 83.8 " stroke="#111" stroke-width="0.9" fill="none"/>
<text x="308.1" y="93.8" font-size="6.4" fill="#222" stroke="#222" stroke-width="0.12" text-anchor="start">10<tspan dy="-2.7" font-size="4.5">1</tspan></text>
<text x="326.8" y="93.8" font-size="6.4" fill="#222" stroke="#222" stroke-width="0.12" text-anchor="start">10<tspan dy="-2.7" font-size="4.5">2</tspan></text>
<text x="345.6" y="93.8" font-size="6.4" fill="#222" stroke="#222" stroke-width="0.12" text-anchor="start">10<tspan dy="-2.7" font-size="4.5">3</tspan></text>
<text x="364.6" y="93.8" font-size="6.4" fill="#222" stroke="#222" stroke-width="0.12" text-anchor="start">10<tspan dy="-2.7" font-size="4.5">4</tspan></text>
<text x="383.7" y="93.8" font-size="6.4" fill="#222" stroke="#222" stroke-width="0.12" text-anchor="start">10<tspan dy="-2.7" font-size="4.5">5</tspan></text>
<text x="350.4" y="105.7" font-size="8.3" text-anchor="middle" font-weight="normal" fill="#222" textLength="13" lengthAdjust="spacingAndGlyphs" stroke="#222" stroke-width="0.12">IgM</text>
<path d="M319.7 196.6 L319.84 196.14 L320.02 195.61 L320.24 194.93 L320.49 194.03 L320.75 192.84 L321 191.27 L321.26 189.25 L321.54 186.83 L321.84 184.11 L322.13 181.2 L322.42 178.22 L322.7 175.28 L322.96 172.24 L323.22 168.98 L323.48 165.65 L323.72 162.39 L323.96 159.33 L324.2 156.62 L324.43 154.13 L324.65 151.71 L324.87 149.5 L325.08 147.62 L325.29 146.22 L325.5 145.43 L325.7 145.34 L325.9 145.85 L326.1 146.83 L326.3 148.16 L326.5 149.69 L326.7 151.3 L326.91 153.05 L327.13 155.09 L327.35 157.32 L327.57 159.7 L327.79 162.16 L328 164.62 L328.2 167.18 L328.4 169.91 L328.6 172.71 L328.8 175.5 L329 178.16 L329.2 180.61 L329.41 182.9 L329.64 185.11 L329.86 187.21 L330.09 189.14 L330.3 190.86 L330.5 192.34 L330.7 193.53 L330.89 194.47 L331.08 195.2 L331.25 195.77 L331.39 196.22 L331.5 196.6 Z" fill="#cdc8d3" stroke="none" opacity="1"/>
<path d="M319.2 196.6 L319.34 196.25 L319.53 195.87 L319.76 195.37 L320 194.92 L320.26 193.64 L320.5 192.05 L320.73 190.58 L320.97 188.19 L321.22 185.87 L321.47 183.57 L321.73 180.49 L322 177.89 L322.29 174.68 L322.59 170.54 L322.9 167.17 L323.21 162.82 L323.51 159.85 L323.8 156.87 L324.08 154.12 L324.38 151.49 L324.66 149.97 L324.92 148.22 L325.14 147.41 L325.3 145.64" fill="none" stroke="#b59cd0" stroke-width="0.9" stroke-linejoin="round" opacity="1"/>
<path d="M303.3 196.6 L303.6 196.6 L304 196.6 L304.49 196.6 L305.01 196.6 L305.53 196.6 L306.01 196.6 L306.46 196.6 L306.92 196.6 L307.37 196.6 L307.82 196.6 L308.27 196.6 L308.73 196.6 L309.18 196.6 L309.63 196.6 L310.08 196.6 L310.53 196.6 L310.99 196.6 L311.44 196.6 L311.89 196.6 L312.34 196.6 L312.79 196.6 L313.25 196.6 L313.7 196.6 L314.15 196.6 L314.6 196.6 L315.05 196.6 L315.51 196.6 L315.96 196.6 L316.41 196.6 L316.86 196.6 L317.31 196.6 L317.77 196.6 L318.22 196.6 L318.67 196.6 L319.12 196.6 L319.57 196.6 L320.03 196.6 L320.48 196.6 L320.93 196.6 L321.38 196.6 L321.84 196.6 L322.29 196.6 L322.75 196.6 L323.24 196.6 L323.73 196.6 L324.19 196.6 L324.62 196.6 L325 196.6 L325.31 196.42 L325.56 196.21 L325.78 195.93 L325.98 195.57 L326.18 195.42 L326.4 194.91 L326.63 193.99 L326.84 193.37 L327.06 191.99 L327.28 191.66 L327.53 189.86 L327.8 188.48 L328.12 186.05 L328.48 182.42 L328.86 179.7 L329.23 176.46 L329.59 172.44 L329.9 169.82 L330.17 167.6 L330.41 164.57 L330.63 162.88 L330.83 160.13 L331.02 158.64 L331.2 156.3 L331.35 155.23 L331.47 154.54 L331.58 153.03 L331.69 152.31 L331.83 151.72 L332 150.6 L332.22 149.09 L332.48 147.71 L332.76 146.16 L333.05 145.51 L333.34 144.33 L333.6 144.19 L333.85 143.92 L334.09 145.43 L334.33 146.18 L334.56 148.14 L334.79 149.88 L335 151.17 L335.2 153.11 L335.39 154.38 L335.57 156.03 L335.74 157.96 L335.92 158.91 L336.1 161.33 L336.28 162.62 L336.47 164.03 L336.66 166.02 L336.84 167.15 L337.02 169.39 L337.2 170.55 L337.37 171.86 L337.54 173.7 L337.7 174.86 L337.86 176.04 L338.03 177.91 L338.2 178.6 L338.37 180.56 L338.54 181.28 L338.71 182.8 L338.89 184.24 L339.08 184.97 L339.3 186.09 L339.55 186.78 L339.83 187.47 L340.12 188.42 L340.43 189.39 L340.72 190.63 L341 191.21 L341.26 191.95 L341.51 192.9 L341.76 192.75 L342.01 193.33 L342.25 194.17 L342.5 194.04 L342.75 194.43 L343 195.25 L343.25 195.58 L343.5 195.88 L343.75 196.13 L344 196.33 L344.23 196.47 L344.45 196.55 L344.66 196.58 L344.9 196.59 L345.17 196.59 L345.5 196.6 L345.9 196.6 L346.35 196.6 L346.85 196.6 L347.36 196.6 L347.87 196.6 L348.36 196.6 L348.84 196.6 L349.31 196.6 L349.79 196.6 L350.27 196.6 L350.75 196.6 L351.22 196.6 L351.7 196.6 L352.18 196.6 L352.65 196.6 L353.13 196.6 L353.61 196.6 L354.08 196.6 L354.56 196.6 L355.04 196.6 L355.51 196.6 L355.99 196.6 L356.47 196.6 L356.94 196.6 L357.42 196.6 L357.9 196.6 L358.38 196.6 L358.85 196.6 L359.33 196.6 L359.81 196.6 L360.28 196.6 L360.76 196.6 L361.24 196.6 L361.71 196.6 L362.19 196.6 L362.67 196.6 L363.14 196.6 L363.62 196.6 L364.1 196.6 L364.57 196.6 L365.05 196.6 L365.53 196.6 L366 196.6 L366.48 196.6 L366.96 196.6 L367.44 196.6 L367.91 196.6 L368.39 196.6 L368.87 196.6 L369.34 196.6 L369.82 196.6 L370.3 196.6 L370.77 196.6 L371.25 196.6 L371.73 196.6 L372.2 196.6 L372.68 196.6 L373.16 196.6 L373.63 196.6 L374.11 196.6 L374.59 196.6 L375.06 196.6 L375.54 196.6 L376.02 196.6 L376.5 196.6 L376.97 196.6 L377.45 196.6 L377.93 196.6 L378.4 196.6 L378.88 196.6 L379.36 196.6 L379.83 196.6 L380.31 196.6 L380.79 196.6 L381.26 196.6 L381.74 196.6 L382.22 196.6 L382.69 196.6 L383.17 196.6 L383.65 196.6 L384.12 196.6 L384.6 196.6 L385.08 196.6 L385.56 196.6 L386.03 196.6 L386.51 196.6 L386.99 196.6 L387.46 196.6 L387.94 196.6 L388.42 196.6 L388.89 196.6 L389.37 196.6 L389.85 196.6 L390.32 196.6 L390.8 196.6 L391.28 196.6 L391.75 196.6 L392.23 196.6 L392.71 196.6 L393.19 196.6 L393.66 196.6 L394.14 196.6 L394.65 196.6 L395.2 196.6 L395.75 196.6 L396.26 196.6 L396.69 196.6 L397 196.6" fill="none" stroke="#74aa58" stroke-width="1.2" stroke-linejoin="round" opacity="1"/>
<path d="M319.5 196.6 L319.72 196.22 L320.02 195.77 L320.38 195.2 L320.76 194.34 L321.14 193.17 L321.5 192.21 L321.83 190.6 L322.17 189.17 L322.5 187.22 L322.83 184.77 L323.17 182.95 L323.5 180.59 L323.83 177.91 L324.17 176.05 L324.5 172.75 L324.83 170.03 L325.17 167.51 L325.5 165.81 L325.83 164.11 L326.17 162.29 L326.5 160.37 L326.83 158.82 L327.17 157.32 L327.5 156.76 L327.84 155.73 L328.2 154.77 L328.56 154.42 L328.9 153.73 L329.22 153.72 L329.5 153.1 L329.74 152.2 L329.94 152.33 L330.11 151.15 L330.27 151.3 L330.43 151.08 L330.6 151.06 L330.77 151.24 L330.93 152.39 L331.09 152.39 L331.26 153.75 L331.42 155.18 L331.6 155.77 L331.79 157.46 L331.98 159.82 L332.18 161.93 L332.38 164.31 L332.59 166.66 L332.8 168.06 L333.02 169.98 L333.24 171.72 L333.47 173.17 L333.71 175.51 L333.95 176.88 L334.2 178.14 L334.46 178.66 L334.72 180.43 L334.99 181.23 L335.27 181.78 L335.54 182.78 L335.8 183.23 L336.06 183.69 L336.31 184.16 L336.56 184.8 L336.8 185.11 L337.05 185.85 L337.3 186.7 L337.55 187.13 L337.8 187.73 L338.05 188.06 L338.3 188.1 L338.55 188.78 L338.8 189.08 L339.05 189.8 L339.3 189.95 L339.55 190.1 L339.8 190.8 L340.05 191.41 L340.3 191.02 L340.55 191.84 L340.8 191.23 L341.05 191.6 L341.3 191.7 L341.55 192.28 L341.8 192.6 L342.04 192.59 L342.27 192.38 L342.5 193.04 L342.74 192.71 L343 192.78 L343.3 193.5 L343.64 193.35 L344.02 193.48 L344.42 193.52 L344.84 193.85 L345.25 193.45 L345.65 193.84 L346.04 193.78 L346.43 193.99 L346.82 193.68 L347.21 194 L347.6 193.93 L348 193.76 L348.41 193.74 L348.82 194.18 L349.24 193.75 L349.66 194.57 L350.08 193.95 L350.5 193.91 L350.92 194.05 L351.33 194.85 L351.75 194.39 L352.17 194.27 L352.58 194.24 L353 194.32 L353.42 194.98 L353.83 195 L354.25 195.14 L354.67 195.25 L355.08 195.11 L355.5 195.19 L355.92 195.26 L356.35 195.34 L356.78 195.41 L357.2 195.49 L357.61 195.56 L358 195.64 L358.36 195.72 L358.7 195.8 L359.03 195.88 L359.35 195.96 L359.67 196.04 L360 196.12 L360.36 196.21 L360.74 196.3 L361.12 196.39 L361.48 196.48 L361.78 196.55 L362 196.6" fill="none" stroke="#1a1a1a" stroke-width="1.0" stroke-linejoin="round" opacity="1"/>
<path d="M319.6 196.6 L319.81 196.22 L320.09 195.75 L320.43 195.17 L320.79 194.04 L321.16 193.58 L321.5 192.21 L321.83 191.19 L322.17 189.52 L322.51 187.72 L322.84 184.98 L323.18 183.6 L323.5 181.52 L323.81 179.33 L324.12 176.23 L324.42 173.88 L324.71 171.32 L325.01 168.77 L325.3 167.06 L325.59 164.57 L325.87 161.86 L326.15 159.48 L326.43 156.84 L326.71 154.23 L327 152 L327.3 150.05 L327.6 148.72 L327.91 146.47 L328.22 145.11 L328.52 144.19 L328.8 143.4 L329.07 143.91 L329.34 144.86 L329.6 146.63 L329.85 147.94 L330.08 149.58 L330.3 151.71 L330.49 152.77 L330.66 154.65 L330.81 156.07 L330.96 157.19 L331.12 159.19 L331.3 160.83 L331.5 162.75 L331.71 163.99 L331.93 165.94 L332.15 167.4 L332.37 168.69 L332.6 170.81 L332.83 171.63 L333.06 173.81 L333.29 174.72 L333.53 176 L333.77 177.52 L334 179.25 L334.23 180.55 L334.46 180.68 L334.69 182.03 L334.92 182.87 L335.16 183.91 L335.4 184.06 L335.66 184.93 L335.92 185.29 L336.19 186.14 L336.47 186 L336.74 186.99 L337 186.81 L337.26 187.2 L337.51 188.09 L337.76 188.37 L338 188.47 L338.25 189.38 L338.5 189.29 L338.75 190.33 L339 190.64 L339.25 191.1 L339.5 191.32 L339.75 191.39 L340 191.71 L340.25 191.93 L340.5 192.55 L340.75 191.97 L341 192.82 L341.25 192.17 L341.5 192.47 L341.74 192.68 L341.96 193.43 L342.19 193.24 L342.43 193.29 L342.69 193.89 L343 193.43 L343.36 193.73 L343.76 193.87 L344.19 194.13 L344.63 194.18 L345.07 194.14 L345.5 193.93 L345.92 193.98 L346.33 193.9 L346.75 194.59 L347.17 194.49 L347.58 194.63 L348 194.17 L348.42 194.47 L348.83 194.81 L349.25 194.68 L349.67 194.31 L350.08 194.66 L350.5 195.08 L350.92 194.54 L351.33 194.54 L351.75 194.68 L352.17 195.09 L352.58 195.26 L353 194.69 L353.42 194.75 L353.83 195.12 L354.25 195.19 L354.67 195.26 L355.08 195.33 L355.5 195.4 L355.92 195.47 L356.35 195.53 L356.78 195.6 L357.2 195.67 L357.61 195.73 L358 195.8 L358.36 195.87 L358.7 195.93 L359.03 196 L359.35 196.07 L359.67 196.13 L360 196.2 L360.36 196.27 L360.74 196.35 L361.12 196.43 L361.48 196.5 L361.78 196.56 L362 196.6" fill="none" stroke="#33206a" stroke-width="1.2" stroke-linejoin="round" opacity="1"/>
<path d="M303.2 196.6 L303.2 140.4 L397 140.4" fill="none" stroke="#111" stroke-width="1.3"/>
<path d="M397 140.4 L397 196.6" fill="none" stroke="#111" stroke-width="1.3"/>
<path d="M303.2 196.6 L397 196.6" fill="none" stroke="#222" stroke-width="1.1"/>
<text x="297.2" y="198.7" font-size="6.3" text-anchor="end" font-weight="normal" fill="#222" stroke="#222" stroke-width="0.12">0</text>
<text x="297.2" y="188.04" font-size="6.3" text-anchor="end" font-weight="normal" fill="#222" stroke="#222" stroke-width="0.12">20</text>
<text x="297.2" y="177.38" font-size="6.3" text-anchor="end" font-weight="normal" fill="#222" stroke="#222" stroke-width="0.12">40</text>
<text x="297.2" y="166.72" font-size="6.3" text-anchor="end" font-weight="normal" fill="#222" stroke="#222" stroke-width="0.12">60</text>
<text x="297.2" y="156.06" font-size="6.3" text-anchor="end" font-weight="normal" fill="#222" stroke="#222" stroke-width="0.12">80</text>
<text x="297.2" y="145.4" font-size="6.3" text-anchor="end" font-weight="normal" fill="#222" stroke="#222" stroke-width="0.12">100</text>
<path d="M300.1 196.6 L303.2 196.6 M300.1 185.94 L303.2 185.94 M300.1 175.28 L303.2 175.28 M300.1 164.62 L303.2 164.62 M300.1 153.96 L303.2 153.96 M300.1 143.3 L303.2 143.3 M301.5 193.94 L303.2 193.94 M301.5 191.27 L303.2 191.27 M301.5 188.6 L303.2 188.6 M301.5 183.28 L303.2 183.28 M301.5 180.61 L303.2 180.61 M301.5 177.94 L303.2 177.94 M301.5 172.62 L303.2 172.62 M301.5 169.95 L303.2 169.95 M301.5 167.28 L303.2 167.28 M301.5 161.96 L303.2 161.96 M301.5 159.29 L303.2 159.29 M301.5 156.62 L303.2 156.62 M301.5 151.3 L303.2 151.3 M301.5 148.63 L303.2 148.63 M301.5 145.97 L303.2 145.97 M305.16 196.6 L305.16 198.4 M306.97 196.6 L306.97 198.4 M308.45 196.6 L308.45 198.4 M309.7 196.6 L309.7 198.4 M310.79 196.6 L310.79 198.4 M311.74 196.6 L311.74 198.4 M312.6 196.6 L312.6 199.4 M318.23 196.6 L318.23 198.4 M321.52 196.6 L321.52 198.4 M323.86 196.6 L323.86 198.4 M325.67 196.6 L325.67 198.4 M327.15 196.6 L327.15 198.4 M328.4 196.6 L328.4 198.4 M329.49 196.6 L329.49 198.4 M330.44 196.6 L330.44 198.4 M331.3 196.6 L331.3 199.4 M336.93 196.6 L336.93 198.4 M340.22 196.6 L340.22 198.4 M342.56 196.6 L342.56 198.4 M344.37 196.6 L344.37 198.4 M345.85 196.6 L345.85 198.4 M347.1 196.6 L347.1 198.4 M348.19 196.6 L348.19 198.4 M349.14 196.6 L349.14 198.4 M350 196.6 L350 199.4 M355.63 196.6 L355.63 198.4 M358.92 196.6 L358.92 198.4 M361.26 196.6 L361.26 198.4 M363.07 196.6 L363.07 198.4 M364.55 196.6 L364.55 198.4 M365.8 196.6 L365.8 198.4 M366.89 196.6 L366.89 198.4 M367.84 196.6 L367.84 198.4 M368.7 196.6 L368.7 199.4 M374.33 196.6 L374.33 198.4 M377.62 196.6 L377.62 198.4 M379.96 196.6 L379.96 198.4 M381.77 196.6 L381.77 198.4 M383.25 196.6 L383.25 198.4 M384.5 196.6 L384.5 198.4 M385.59 196.6 L385.59 198.4 M386.54 196.6 L386.54 198.4 M387.4 196.6 L387.4 199.4 M393.03 196.6 L393.03 198.4 M396.32 196.6 L396.32 198.4 " stroke="#111" stroke-width="0.9" fill="none"/>
<text x="309" y="208.3" font-size="6.4" fill="#222" stroke="#222" stroke-width="0.12" text-anchor="start">10<tspan dy="-2.7" font-size="4.5">1</tspan></text>
<text x="327.7" y="208.3" font-size="6.4" fill="#222" stroke="#222" stroke-width="0.12" text-anchor="start">10<tspan dy="-2.7" font-size="4.5">2</tspan></text>
<text x="346.4" y="208.3" font-size="6.4" fill="#222" stroke="#222" stroke-width="0.12" text-anchor="start">10<tspan dy="-2.7" font-size="4.5">3</tspan></text>
<text x="365.2" y="208.3" font-size="6.4" fill="#222" stroke="#222" stroke-width="0.12" text-anchor="start">10<tspan dy="-2.7" font-size="4.5">4</tspan></text>
<text x="383.9" y="208.3" font-size="6.4" fill="#222" stroke="#222" stroke-width="0.12" text-anchor="start">10<tspan dy="-2.7" font-size="4.5">5</tspan></text>
<text x="349.6" y="219.5" font-size="8.3" text-anchor="middle" font-weight="normal" fill="#222" textLength="13" lengthAdjust="spacingAndGlyphs" stroke="#222" stroke-width="0.12">IgM</text>
<path d="M174.5 27.6 L174.5 82 L249.7 82" fill="none" stroke="#000" stroke-width="1.25"/>
<text x="168.2" y="32.8" font-size="6.4" text-anchor="end" font-weight="normal" fill="#222" stroke="#222" stroke-width="0.12">2000</text>
<text x="168.2" y="45.7" font-size="6.4" text-anchor="end" font-weight="normal" fill="#222" stroke="#222" stroke-width="0.12">1500</text>
<text x="168.2" y="58.6" font-size="6.4" text-anchor="end" font-weight="normal" fill="#222" stroke="#222" stroke-width="0.12">1000</text>
<text x="168.2" y="71.5" font-size="6.4" text-anchor="end" font-weight="normal" fill="#222" stroke="#222" stroke-width="0.12">500</text>
<text x="168.2" y="84.4" font-size="6.4" text-anchor="end" font-weight="normal" fill="#222" stroke="#222" stroke-width="0.12">0</text>
<text x="193.4" y="93.5" font-size="6.6" text-anchor="middle" font-weight="normal" fill="#222" stroke="#222" stroke-width="0.12">MED</text>
<text x="231" y="93.5" font-size="6.6" text-anchor="middle" font-weight="normal" fill="#222" stroke="#222" stroke-width="0.12">IL-4</text>
<path d="M171.2 30.4 L174.5 30.4 M171.2 43.3 L174.5 43.3 M171.2 56.2 L174.5 56.2 M171.2 69.1 L174.5 69.1 M171.2 82 L174.5 82 M193.4 82 L193.4 84.6 M231 82 L231 84.6 " stroke="#111" stroke-width="1" fill="none"/>
<text transform="translate(148.7 54.8) rotate(-90)" font-size="8.4" text-anchor="middle" fill="#1a1a1a" stroke="#1a1a1a" stroke-width="0.25" textLength="41.6" lengthAdjust="spacingAndGlyphs">MFI of sIgM</text>
<path d="M193.9 31.9 L231.6 31.9" stroke="#111" stroke-width="1.2"/>
<text x="212.75" y="30.6" font-size="8.5" text-anchor="middle" font-weight="normal" fill="#222" stroke="#222" stroke-width="0.12">**</text>
<path d="M180.7 76.8 L206.3 76.8" stroke="#111" stroke-width="1.3"/>
<circle cx="188" cy="77" r="1.25" fill="#111"/>
<circle cx="189.8" cy="76.4" r="1.25" fill="#111"/>
<circle cx="191.5" cy="78.2" r="1.25" fill="#111"/>
<circle cx="193.5" cy="75.3" r="1.25" fill="#111"/>
<circle cx="194.5" cy="77.4" r="1.25" fill="#111"/>
<circle cx="196" cy="76.6" r="1.25" fill="#111"/>
<circle cx="198.2" cy="76.2" r="1.25" fill="#111"/>
<path d="M218.4 54.2 L243.8 54.2" stroke="#111" stroke-width="1.3"/>
<path d="M224.9 49.2 L237.3 49.2" stroke="#111" stroke-width="1.1"/>
<path d="M224.9 58.5 L237.3 58.5" stroke="#111" stroke-width="1.1"/>
<path d="M231.1 49.2 L231.1 58.5" stroke="#111" stroke-width="1.1"/>
<circle cx="231.2" cy="39.2" r="1.35" fill="#111"/>
<circle cx="231.2" cy="49.2" r="1.35" fill="#111"/>
<circle cx="229.1" cy="57.6" r="1.35" fill="#111"/>
<circle cx="232.9" cy="59.3" r="1.35" fill="#111"/>
<circle cx="231.2" cy="65.3" r="1.35" fill="#111"/>
<path d="M174.5 104 L174.5 163.3 L243.9 163.3" fill="none" stroke="#000" stroke-width="1.25"/>
<text x="168.2" y="109.8" font-size="6.4" text-anchor="end" font-weight="normal" fill="#222" stroke="#222" stroke-width="0.12">2000</text>
<text x="168.2" y="123.8" font-size="6.4" text-anchor="end" font-weight="normal" fill="#222" stroke="#222" stroke-width="0.12">1500</text>
<text x="168.2" y="137.8" font-size="6.4" text-anchor="end" font-weight="normal" fill="#222" stroke="#222" stroke-width="0.12">1000</text>
<text x="168.2" y="151.8" font-size="6.4" text-anchor="end" font-weight="normal" fill="#222" stroke="#222" stroke-width="0.12">500</text>
<text x="168.2" y="165.7" font-size="6.4" text-anchor="end" font-weight="normal" fill="#222" stroke="#222" stroke-width="0.12">0</text>
<text x="192.6" y="176.7" font-size="6.6" text-anchor="middle" font-weight="normal" fill="#222" stroke="#222" stroke-width="0.12">MED</text>
<text x="226.5" y="176.7" font-size="6.6" text-anchor="middle" font-weight="normal" fill="#222" stroke="#222" stroke-width="0.12">IL-4</text>
<path d="M171.2 107.4 L174.5 107.4 M171.2 121.4 L174.5 121.4 M171.2 135.4 L174.5 135.4 M171.2 149.4 L174.5 149.4 M171.2 163.3 L174.5 163.3 M192.6 163.3 L192.6 165.9 M226.5 163.3 L226.5 165.9 " stroke="#111" stroke-width="1" fill="none"/>
<text transform="translate(148.3 133.65) rotate(-90)" font-size="8.4" text-anchor="middle" fill="#1a1a1a" stroke="#1a1a1a" stroke-width="0.25" textLength="41.6" lengthAdjust="spacingAndGlyphs">MFI of sIgM</text>
<path d="M192.1 131.8 L230.2 131.8" stroke="#111" stroke-width="1.2"/>
<text x="211.15" y="130.4" font-size="8.5" text-anchor="middle" font-weight="normal" fill="#222" stroke="#222" stroke-width="0.12">*</text>
<path d="M180 157.4 L204.2 157.4" stroke="#111" stroke-width="1.3"/>
<circle cx="187.4" cy="157.4" r="1.25" fill="#111"/>
<circle cx="189" cy="158" r="1.25" fill="#111"/>
<circle cx="190.1" cy="155.3" r="1.25" fill="#111"/>
<circle cx="191.5" cy="157.2" r="1.25" fill="#111"/>
<circle cx="192.8" cy="159" r="1.25" fill="#111"/>
<circle cx="194.2" cy="156.6" r="1.25" fill="#111"/>
<circle cx="195.6" cy="158.2" r="1.25" fill="#111"/>
<circle cx="197" cy="156.4" r="1.25" fill="#111"/>
<path d="M216.4 148.7 L240 148.7" stroke="#111" stroke-width="1.3"/>
<path d="M222.6 145.3 L233.8 145.3" stroke="#111" stroke-width="1.1"/>
<path d="M222.6 151.6 L233.8 151.6" stroke="#111" stroke-width="1.1"/>
<path d="M228.2 145.3 L228.2 151.6" stroke="#111" stroke-width="1.1"/>
<circle cx="227.8" cy="140.5" r="1.35" fill="#111"/>
<circle cx="226.2" cy="144.6" r="1.35" fill="#111"/>
<circle cx="228.1" cy="147.6" r="1.35" fill="#111"/>
<circle cx="229.4" cy="153.6" r="1.35" fill="#111"/>
<circle cx="226.2" cy="157" r="1.35" fill="#111"/>
<path d="M174.5 216 L174.5 278 L246.6 278" fill="none" stroke="#000" stroke-width="1.25"/>
<text x="168.2" y="221.8" font-size="6.4" text-anchor="end" font-weight="normal" fill="#222" stroke="#222" stroke-width="0.12">2000</text>
<text x="168.2" y="236.5" font-size="6.4" text-anchor="end" font-weight="normal" fill="#222" stroke="#222" stroke-width="0.12">1500</text>
<text x="168.2" y="251.1" font-size="6.4" text-anchor="end" font-weight="normal" fill="#222" stroke="#222" stroke-width="0.12">1000</text>
<text x="168.2" y="265.8" font-size="6.4" text-anchor="end" font-weight="normal" fill="#222" stroke="#222" stroke-width="0.12">500</text>
<text x="168.2" y="280.4" font-size="6.4" text-anchor="end" font-weight="normal" fill="#222" stroke="#222" stroke-width="0.12">0</text>
<text x="192.8" y="290.1" font-size="6.6" text-anchor="middle" font-weight="normal" fill="#222" stroke="#222" stroke-width="0.12">MED</text>
<text x="228.5" y="290.1" font-size="6.6" text-anchor="middle" font-weight="normal" fill="#222" stroke="#222" stroke-width="0.12">IL-4</text>
<path d="M171.2 219.4 L174.5 219.4 M171.2 234.1 L174.5 234.1 M171.2 248.7 L174.5 248.7 M171.2 263.4 L174.5 263.4 M171.2 278 L174.5 278 M192.8 278 L192.8 280.6 M228.5 278 L228.5 280.6 " stroke="#111" stroke-width="1" fill="none"/>
<text transform="translate(148.3 247) rotate(-90)" font-size="8.4" text-anchor="middle" fill="#1a1a1a" stroke="#1a1a1a" stroke-width="0.25" textLength="41.6" lengthAdjust="spacingAndGlyphs">MFI of sIgD</text>
<path d="M193.1 262 L231.2 262" stroke="#111" stroke-width="1.2"/>
<text x="212.15" y="259.1" font-size="5.8" text-anchor="middle" font-weight="normal" fill="#222" stroke="#222" stroke-width="0.12">NS</text>
<path d="M223.9 227.8 L258.5 227.8" stroke="#111" stroke-width="1.2"/>
<text x="241.2" y="225.2" font-size="5.8" text-anchor="middle" font-weight="normal" fill="#222" stroke="#222" stroke-width="0.12">NS</text>
<path d="M180.6 273.8 L204.2 273.8" stroke="#111" stroke-width="1.3"/>
<circle cx="185.4" cy="272.4" r="1.25" fill="#111"/>
<circle cx="187.5" cy="274.2" r="1.25" fill="#111"/>
<circle cx="189.5" cy="273.4" r="1.25" fill="#111"/>
<circle cx="191.5" cy="274.6" r="1.25" fill="#111"/>
<circle cx="193.5" cy="275.6" r="1.25" fill="#111"/>
<circle cx="195.5" cy="274.2" r="1.25" fill="#111"/>
<circle cx="198.2" cy="272.6" r="1.25" fill="#111"/>
<path d="M217 273.2 L240.2 273.2" stroke="#111" stroke-width="1.3"/>
<circle cx="223.8" cy="273.2" r="1.25" fill="#111"/>
<circle cx="225.6" cy="272.6" r="1.25" fill="#111"/>
<circle cx="227.1" cy="271.4" r="1.25" fill="#111"/>
<circle cx="229.8" cy="271.9" r="1.25" fill="#111"/>
<circle cx="228.5" cy="275.2" r="1.25" fill="#111"/>
<circle cx="230.8" cy="273.6" r="1.25" fill="#111"/>
<circle cx="232.5" cy="273.2" r="1.25" fill="#111"/>
<path d="M174.5 339.4 L174.5 403.5 L270.8 403.5" fill="none" stroke="#000" stroke-width="1.25"/>
<text x="168.2" y="344.9" font-size="6.4" text-anchor="end" font-weight="normal" fill="#222" stroke="#222" stroke-width="0.12">1500</text>
<text x="168.2" y="365.4" font-size="6.4" text-anchor="end" font-weight="normal" fill="#222" stroke="#222" stroke-width="0.12">1000</text>
<text x="168.2" y="385.7" font-size="6.4" text-anchor="end" font-weight="normal" fill="#222" stroke="#222" stroke-width="0.12">500</text>
<text x="168.2" y="405.9" font-size="6.4" text-anchor="end" font-weight="normal" fill="#222" stroke="#222" stroke-width="0.12">0</text>
<text x="190" y="416.4" font-size="6.6" text-anchor="middle" font-weight="normal" fill="#222" stroke="#222" stroke-width="0.12">MED</text>
<text x="222.5" y="416.4" font-size="6.6" text-anchor="middle" font-weight="normal" fill="#222" stroke="#222" stroke-width="0.12">IL-4+SC</text>
<text x="254.6" y="416.4" font-size="6.6" text-anchor="middle" font-weight="normal" fill="#222" stroke="#222" stroke-width="0.12">IL-4</text>
<path d="M171.2 342.5 L174.5 342.5 M171.2 363 L174.5 363 M171.2 383.3 L174.5 383.3 M171.2 403.5 L174.5 403.5 M190 403.5 L190 406.1 M222.5 403.5 L222.5 406.1 M254.6 403.5 L254.6 406.1 " stroke="#111" stroke-width="1" fill="none"/>
<text transform="translate(148 371.45) rotate(-90)" font-size="8.4" text-anchor="middle" fill="#1a1a1a" stroke="#1a1a1a" stroke-width="0.25" textLength="41.6" lengthAdjust="spacingAndGlyphs">MFI of sIgM</text>
<path d="M219.8 346.5 L256.7 346.5" stroke="#111" stroke-width="1.2"/>
<text x="238.25" y="343.7" font-size="5.8" text-anchor="middle" font-weight="normal" fill="#222" stroke="#222" stroke-width="0.12">NS</text>
<path d="M181.2 399.3 L200 399.3" stroke="#111" stroke-width="1.3"/>
<circle cx="185" cy="399" r="1.2" fill="#111"/>
<circle cx="190" cy="399.4" r="1.2" fill="#111"/>
<circle cx="195" cy="399.2" r="1.2" fill="#111"/>
<circle cx="200" cy="399" r="1.2" fill="#111"/>
<path d="M211.5 358 L233.3 358" stroke="#111" stroke-width="1.3"/>
<path d="M216.9 354.8 L227.9 354.8" stroke="#111" stroke-width="1.1"/>
<path d="M216.9 361.5 L227.9 361.5" stroke="#111" stroke-width="1.1"/>
<path d="M222.4 354.8 L222.4 361.5" stroke="#111" stroke-width="1.1"/>
<rect x="221" y="348.3" width="2.6" height="2.6" fill="#111"/>
<rect x="219.5" y="354.9" width="2.6" height="2.6" fill="#111"/>
<rect x="222.3" y="358.9" width="2.6" height="2.6" fill="#111"/>
<rect x="221" y="367" width="2.6" height="2.6" fill="#111"/>
<path d="M243.8 357 L265.6 357" stroke="#111" stroke-width="1.3"/>
<path d="M249.7 354.2 L259.7 354.2" stroke="#111" stroke-width="1.1"/>
<path d="M249.7 360.4 L259.7 360.4" stroke="#111" stroke-width="1.1"/>
<path d="M254.7 354.2 L254.7 360.4" stroke="#111" stroke-width="1.1"/>
<path d="M252 348.92 L250.39 351.86 L253.61 351.86 Z" fill="#111"/>
<path d="M256 347.92 L254.39 350.86 L257.61 350.86 Z" fill="#111"/>
<path d="M253.8 356.72 L252.19 359.66 L255.41 359.66 Z" fill="#111"/>
<path d="M254.8 364.62 L253.19 367.56 L256.41 367.56 Z" fill="#111"/>
<path d="M437.5 16.9 L437.5 81.8 L508.9 81.8" fill="none" stroke="#000" stroke-width="1.25"/>
<text x="431.2" y="22.4" font-size="6.4" text-anchor="end" font-weight="normal" fill="#222" stroke="#222" stroke-width="0.12">500</text>
<text x="431.2" y="34.8" font-size="6.4" text-anchor="end" font-weight="normal" fill="#222" stroke="#222" stroke-width="0.12">400</text>
<text x="431.2" y="47.3" font-size="6.4" text-anchor="end" font-weight="normal" fill="#222" stroke="#222" stroke-width="0.12">300</text>
<text x="431.2" y="59.7" font-size="6.4" text-anchor="end" font-weight="normal" fill="#222" stroke="#222" stroke-width="0.12">200</text>
<text x="431.2" y="72.1" font-size="6.4" text-anchor="end" font-weight="normal" fill="#222" stroke="#222" stroke-width="0.12">100</text>
<text x="431.2" y="84.2" font-size="6.4" text-anchor="end" font-weight="normal" fill="#222" stroke="#222" stroke-width="0.12">0</text>
<text x="449.8" y="95.1" font-size="6.6" text-anchor="middle" font-weight="normal" fill="#222" stroke="#222" stroke-width="0.12">NC</text>
<text x="476" y="95.1" font-size="6.6" text-anchor="middle" font-weight="normal" fill="#222" stroke="#222" stroke-width="0.12">MED</text>
<text x="499.6" y="95.1" font-size="6.6" text-anchor="middle" font-weight="normal" fill="#222" stroke="#222" stroke-width="0.12">NAb</text>
<path d="M434.2 20 L437.5 20 M434.2 32.4 L437.5 32.4 M434.2 44.9 L437.5 44.9 M434.2 57.3 L437.5 57.3 M434.2 69.7 L437.5 69.7 M434.2 81.8 L437.5 81.8 M449.8 81.8 L449.8 84.4 M476 81.8 L476 84.4 M499.6 81.8 L499.6 84.4 " stroke="#111" stroke-width="1" fill="none"/>
<text transform="translate(414 49.35) rotate(-90)" font-size="8.4" text-anchor="middle" fill="#1a1a1a" stroke="#1a1a1a" stroke-width="0.25" textLength="41.6" lengthAdjust="spacingAndGlyphs">MFI of sIgM</text>
<path d="M471.9 46.3 L502.7 46.3" stroke="#111" stroke-width="1.2"/>
<text x="487.3" y="43.3" font-size="5.8" text-anchor="middle" font-weight="normal" fill="#222" stroke="#222" stroke-width="0.12">NS</text>
<path d="M442 70.4 L458.6 70.4" stroke="#111" stroke-width="1.3"/>
<circle cx="446" cy="70.6" r="1.15" fill="#111"/>
<circle cx="448" cy="70" r="1.15" fill="#111"/>
<circle cx="449.7" cy="68.6" r="1.15" fill="#111"/>
<circle cx="449.7" cy="72.1" r="1.15" fill="#111"/>
<circle cx="451.2" cy="70.8" r="1.15" fill="#111"/>
<circle cx="453" cy="70.2" r="1.15" fill="#111"/>
<path d="M467.2 58.3 L483.8 58.3" stroke="#111" stroke-width="1.3"/>
<circle cx="475.3" cy="54.4" r="1.2" fill="#111"/>
<circle cx="471.5" cy="58.6" r="1.2" fill="#111"/>
<circle cx="473.2" cy="57.6" r="1.2" fill="#111"/>
<circle cx="474.6" cy="59.2" r="1.2" fill="#111"/>
<circle cx="476.2" cy="57.8" r="1.2" fill="#111"/>
<circle cx="477.8" cy="59.4" r="1.2" fill="#111"/>
<circle cx="479" cy="58" r="1.2" fill="#111"/>
<circle cx="476.5" cy="56.4" r="1.2" fill="#111"/>
<circle cx="473.6" cy="62.9" r="1.2" fill="#111"/>
<path d="M492.8 57.6 L508.8 57.6" stroke="#111" stroke-width="1.3"/>
<circle cx="500.6" cy="53.6" r="1.2" fill="#111"/>
<circle cx="496.5" cy="57.8" r="1.2" fill="#111"/>
<circle cx="498.2" cy="56.8" r="1.2" fill="#111"/>
<circle cx="499.8" cy="58.6" r="1.2" fill="#111"/>
<circle cx="501.5" cy="57" r="1.2" fill="#111"/>
<circle cx="503" cy="58.4" r="1.2" fill="#111"/>
<circle cx="504.3" cy="57.4" r="1.2" fill="#111"/>
<circle cx="498.9" cy="61.9" r="1.2" fill="#111"/>
<path d="M437.5 133.4 L437.5 196.7 L511 196.7" fill="none" stroke="#000" stroke-width="1.25"/>
<text x="431.2" y="139" font-size="6.4" text-anchor="end" font-weight="normal" fill="#222" stroke="#222" stroke-width="0.12">300</text>
<text x="431.2" y="159" font-size="6.4" text-anchor="end" font-weight="normal" fill="#222" stroke="#222" stroke-width="0.12">200</text>
<text x="431.2" y="179.1" font-size="6.4" text-anchor="end" font-weight="normal" fill="#222" stroke="#222" stroke-width="0.12">100</text>
<text x="431.2" y="199.1" font-size="6.4" text-anchor="end" font-weight="normal" fill="#222" stroke="#222" stroke-width="0.12">0</text>
<text x="455.6" y="209.6" font-size="7" text-anchor="middle" font-weight="normal" fill="#222" stroke="#222" stroke-width="0.12">a</text>
<text x="492.2" y="209.6" font-size="7" text-anchor="middle" font-weight="normal" fill="#222" stroke="#222" stroke-width="0.12">b</text>
<path d="M434.2 136.6 L437.5 136.6 M434.2 156.6 L437.5 156.6 M434.2 176.7 L437.5 176.7 M434.2 196.7 L437.5 196.7 M455.6 196.7 L455.6 199.3 M492.2 196.7 L492.2 199.3 " stroke="#111" stroke-width="1" fill="none"/>
<path d="M454.1 150.1 L491.8 150.1" stroke="#111" stroke-width="1.2"/>
<text x="472.95" y="149" font-size="8" text-anchor="middle" font-weight="normal" fill="#222" stroke="#222" stroke-width="0.12">*</text>
<path d="M443.4 176.3 L468.4 176.3" stroke="#111" stroke-width="1.3"/>
<rect x="454.75" y="171.55" width="2.3" height="2.3" fill="#111"/>
<rect x="447.85" y="175.35" width="2.3" height="2.3" fill="#111"/>
<rect x="449.85" y="174.65" width="2.3" height="2.3" fill="#111"/>
<rect x="451.85" y="175.75" width="2.3" height="2.3" fill="#111"/>
<rect x="453.85" y="174.85" width="2.3" height="2.3" fill="#111"/>
<rect x="455.85" y="175.65" width="2.3" height="2.3" fill="#111"/>
<rect x="457.85" y="174.85" width="2.3" height="2.3" fill="#111"/>
<rect x="459.85" y="175.45" width="2.3" height="2.3" fill="#111"/>
<rect x="452.35" y="177.85" width="2.3" height="2.3" fill="#111"/>
<path d="M480.4 164.2 L504.4 164.2" stroke="#111" stroke-width="1.3"/>
<rect x="488.95" y="159.05" width="2.3" height="2.3" fill="#111"/>
<rect x="493.35" y="160.15" width="2.3" height="2.3" fill="#111"/>
<rect x="485.95" y="163.05" width="2.3" height="2.3" fill="#111"/>
<rect x="487.85" y="162.25" width="2.3" height="2.3" fill="#111"/>
<rect x="489.65" y="163.65" width="2.3" height="2.3" fill="#111"/>
<rect x="491.45" y="162.45" width="2.3" height="2.3" fill="#111"/>
<rect x="493.05" y="163.65" width="2.3" height="2.3" fill="#111"/>
<rect x="494.75" y="164.45" width="2.3" height="2.3" fill="#111"/>
<rect x="496.05" y="162.85" width="2.3" height="2.3" fill="#111"/>
<rect x="491.05" y="167.15" width="2.3" height="2.3" fill="#111"/>
<path d="M437.5 255.2 L437.5 321.9 L508.9 321.9" fill="none" stroke="#000" stroke-width="1.25"/>
<text x="431.2" y="260.5" font-size="6.4" text-anchor="end" font-weight="normal" fill="#222" stroke="#222" stroke-width="0.12">5</text>
<text x="431.2" y="273.3" font-size="6.4" text-anchor="end" font-weight="normal" fill="#222" stroke="#222" stroke-width="0.12">4</text>
<text x="431.2" y="286" font-size="6.4" text-anchor="end" font-weight="normal" fill="#222" stroke="#222" stroke-width="0.12">3</text>
<text x="431.2" y="298.8" font-size="6.4" text-anchor="end" font-weight="normal" fill="#222" stroke="#222" stroke-width="0.12">2</text>
<text x="431.2" y="311.5" font-size="6.4" text-anchor="end" font-weight="normal" fill="#222" stroke="#222" stroke-width="0.12">1</text>
<text x="431.2" y="324.3" font-size="6.4" text-anchor="end" font-weight="normal" fill="#222" stroke="#222" stroke-width="0.12">0</text>
<text x="455" y="334" font-size="7" text-anchor="middle" font-weight="normal" fill="#222" stroke="#222" stroke-width="0.12">a</text>
<text x="491.1" y="334" font-size="7" text-anchor="middle" font-weight="normal" fill="#222" stroke="#222" stroke-width="0.12">b</text>
<path d="M434.2 258.1 L437.5 258.1 M434.2 270.9 L437.5 270.9 M434.2 283.6 L437.5 283.6 M434.2 296.4 L437.5 296.4 M434.2 309.1 L437.5 309.1 M434.2 321.9 L437.5 321.9 M455 321.9 L455 324.5 M491.1 321.9 L491.1 324.5 " stroke="#111" stroke-width="1" fill="none"/>
<text transform="translate(422.6 290.2) rotate(-90)" font-size="8" text-anchor="middle" fill="#1a1a1a" stroke="#1a1a1a" stroke-width="0.25" textLength="44.4" lengthAdjust="spacingAndGlyphs">Fold changes</text>
<path d="M454.6 263 L492.1 263" stroke="#111" stroke-width="1.2"/>
<text x="473.35" y="262.6" font-size="8" text-anchor="middle" font-weight="normal" fill="#222" stroke="#222" stroke-width="0.12">**</text>
<path d="M443.5 308.3 L467.1 308.3" stroke="#111" stroke-width="1.3"/>
<rect x="452.05" y="303.25" width="2.3" height="2.3" fill="#111"/>
<rect x="449.25" y="307.15" width="2.3" height="2.3" fill="#111"/>
<rect x="454.15" y="307.15" width="2.3" height="2.3" fill="#111"/>
<rect x="458.25" y="307.15" width="2.3" height="2.3" fill="#111"/>
<rect x="454.15" y="311.35" width="2.3" height="2.3" fill="#111"/>
<path d="M479.6 281.1 L503.2 281.1" stroke="#111" stroke-width="1.3"/>
<path d="M485.7 276.4 L497.1 276.4" stroke="#111" stroke-width="1.1"/>
<path d="M485.7 285.7 L497.1 285.7" stroke="#111" stroke-width="1.1"/>
<path d="M491.4 276.4 L491.4 285.7" stroke="#111" stroke-width="1.1"/>
<rect x="490.25" y="266.05" width="2.3" height="2.3" fill="#111"/>
<rect x="491.65" y="276.25" width="2.3" height="2.3" fill="#111"/>
<rect x="487.75" y="278.95" width="2.3" height="2.3" fill="#111"/>
<rect x="490.25" y="284.55" width="2.3" height="2.3" fill="#111"/>
<rect x="490.25" y="292.6" width="2.3" height="2.3" fill="#111"/>
<defs><filter id="bl" x="-20%" y="-50%" width="140%" height="200%"><feGaussianBlur stdDeviation="0.9"/></filter></defs>
<rect x="313.2" y="286" width="45.9" height="18.3" fill="#d3d3d3"/>
<rect x="313.2" y="309.2" width="45.9" height="12.4" fill="#d6d6d6"/>
<g filter="url(#bl)">
<rect x="313.6" y="286.2" width="45" height="2.2" fill="#e2e2e2"/>
<rect x="314.8" y="288.6" width="17.4" height="5.4" rx="2.6" fill="#383838"/>
<rect x="339" y="288.8" width="18" height="6.4" rx="3" fill="#0c0c0c"/>
<rect x="315.5" y="297.2" width="15.5" height="4.8" rx="2" fill="#b2b2b2"/>
<rect x="340" y="297" width="16" height="6.4" rx="2.5" fill="#9e9e9e"/>
<ellipse cx="342.5" cy="300.6" rx="2.4" ry="2.3" fill="#7c7c7c"/>
<ellipse cx="352.5" cy="300.6" rx="2.4" ry="2.3" fill="#808080"/>
<rect x="314.6" y="313.4" width="17" height="4.8" rx="2.2" fill="#5e5e5e"/>
<rect x="340.3" y="313.8" width="16" height="4.6" rx="2.2" fill="#929292"/>
</g>
<text x="323.3" y="282.3" font-size="10.5" text-anchor="middle" font-weight="normal" fill="#111" stroke="#111" stroke-width="0.12">a</text>
<text x="346.7" y="282.3" font-size="10.5" text-anchor="middle" font-weight="normal" fill="#111" stroke="#111" stroke-width="0.12">b</text>
<text x="361.7" y="299.4" font-size="11" text-anchor="start" font-weight="normal" fill="#111" textLength="33.4" lengthAdjust="spacingAndGlyphs" stroke="#111" stroke-width="0.12">CD79b</text>
<text x="363.1" y="319.6" font-size="11" text-anchor="start" font-weight="normal" fill="#111" textLength="23.4" lengthAdjust="spacingAndGlyphs" stroke="#111" stroke-width="0.12">Actin</text>
<rect x="0" y="0" width="520" height="1.1" fill="#000"/><rect x="0" y="0" width="1.1" height="432" fill="#000"/><rect x="518.8" y="0" width="1.2" height="432" fill="#000"/><rect x="0" y="430.5" width="520" height="1.5" fill="#000"/>
</g></svg></body></html>
